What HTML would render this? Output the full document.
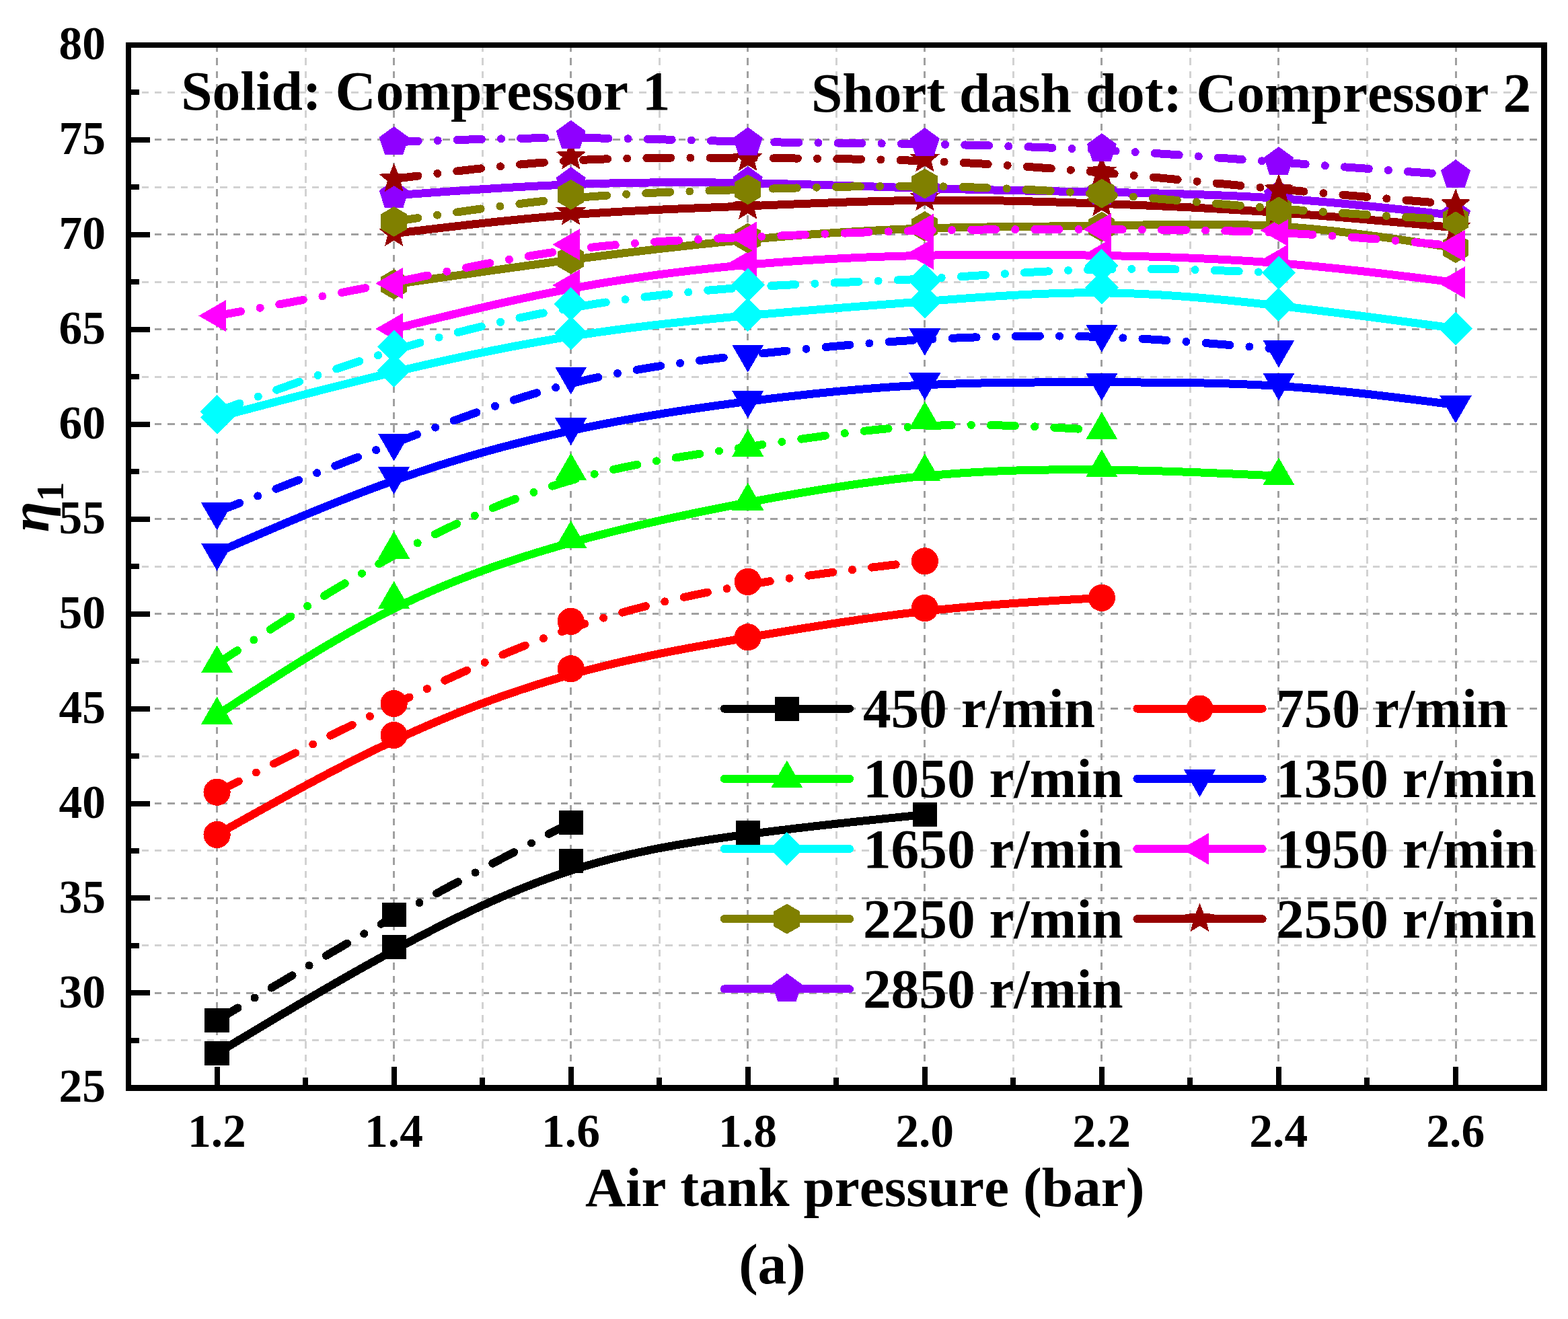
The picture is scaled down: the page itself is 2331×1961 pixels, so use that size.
<!DOCTYPE html>
<html><head><meta charset="utf-8"><title>Air tank pressure vs efficiency</title>
<style>
html,body{margin:0;padding:0;background:#fff;}
svg{display:block;}
path,polygon,rect,circle{shape-rendering:crispEdges;}
text{font-family:"Liberation Serif","Times New Roman",serif;font-weight:bold;font-kerning:none;}
</style></head><body>
<svg width="2331" height="1961" viewBox="0 0 2331 1961">
<rect width="2331" height="1961" fill="#fff"/>
<g fill="none" stroke-width="3" stroke-dasharray="10.5 8.97" shape-rendering="crispEdges"><path d="M191.05,1546.88H2295.6" stroke="#D2D2D2"/><path d="M191.05,1405.93H2295.6" stroke="#D2D2D2"/><path d="M191.05,1264.99H2295.6" stroke="#D2D2D2"/><path d="M191.05,1124.04H2295.6" stroke="#D2D2D2"/><path d="M191.05,983.1H2295.6" stroke="#D2D2D2"/><path d="M191.05,842.15H2295.6" stroke="#D2D2D2"/><path d="M191.05,701.21H2295.6" stroke="#D2D2D2"/><path d="M191.05,560.26H2295.6" stroke="#D2D2D2"/><path d="M191.05,419.32H2295.6" stroke="#D2D2D2"/><path d="M191.05,278.37H2295.6" stroke="#D2D2D2"/><path d="M191.05,137.43H2295.6" stroke="#D2D2D2"/><path d="M191.05,1476.4H2295.6" stroke="#A0A0A0"/><path d="M191.05,1335.46H2295.6" stroke="#A0A0A0"/><path d="M191.05,1194.51H2295.6" stroke="#A0A0A0"/><path d="M191.05,1053.57H2295.6" stroke="#A0A0A0"/><path d="M191.05,912.62H2295.6" stroke="#A0A0A0"/><path d="M191.05,771.68H2295.6" stroke="#A0A0A0"/><path d="M191.05,630.73H2295.6" stroke="#A0A0A0"/><path d="M191.05,489.79H2295.6" stroke="#A0A0A0"/><path d="M191.05,348.84H2295.6" stroke="#A0A0A0"/><path d="M191.05,207.9H2295.6" stroke="#A0A0A0"/><path d="M322.58,1617.35V66.95" stroke="#A0A0A0" stroke-dasharray="10.5 8.994"/><path d="M454.11,1617.35V66.95" stroke="#D2D2D2" stroke-dasharray="10.5 8.994"/><path d="M585.64,1617.35V66.95" stroke="#A0A0A0" stroke-dasharray="10.5 8.994"/><path d="M717.17,1617.35V66.95" stroke="#D2D2D2" stroke-dasharray="10.5 8.994"/><path d="M848.7,1617.35V66.95" stroke="#A0A0A0" stroke-dasharray="10.5 8.994"/><path d="M980.23,1617.35V66.95" stroke="#D2D2D2" stroke-dasharray="10.5 8.994"/><path d="M1111.76,1617.35V66.95" stroke="#A0A0A0" stroke-dasharray="10.5 8.994"/><path d="M1243.29,1617.35V66.95" stroke="#D2D2D2" stroke-dasharray="10.5 8.994"/><path d="M1374.82,1617.35V66.95" stroke="#A0A0A0" stroke-dasharray="10.5 8.994"/><path d="M1506.35,1617.35V66.95" stroke="#D2D2D2" stroke-dasharray="10.5 8.994"/><path d="M1637.88,1617.35V66.95" stroke="#A0A0A0" stroke-dasharray="10.5 8.994"/><path d="M1769.41,1617.35V66.95" stroke="#D2D2D2" stroke-dasharray="10.5 8.994"/><path d="M1900.94,1617.35V66.95" stroke="#A0A0A0" stroke-dasharray="10.5 8.994"/><path d="M2032.47,1617.35V66.95" stroke="#D2D2D2" stroke-dasharray="10.5 8.994"/><path d="M2164,1617.35V66.95" stroke="#A0A0A0" stroke-dasharray="10.5 8.994"/></g>
<text x="269.2" y="163.4" font-size="83.4">Solid: Compressor 1</text>
<text x="1205.9" y="166.2" font-size="83.4">Short dash dot: Compressor 2</text>
<path d="M322.58,1565.9 L326.1,1563.78 L329.62,1561.67 L333.14,1559.56 L336.66,1557.44 L340.18,1555.33 L343.7,1553.21 L347.21,1551.1 L350.73,1548.99 L354.25,1546.87 L357.77,1544.76 L361.29,1542.65 L364.81,1540.54 L368.33,1538.43 L371.85,1536.32 L375.37,1534.22 L378.89,1532.11 L382.41,1530 L385.93,1527.9 L389.44,1525.8 L392.96,1523.7 L396.48,1521.6 L400,1519.5 L403.52,1517.4 L407.04,1515.31 L410.56,1513.21 L414.08,1511.12 L417.6,1509.03 L421.12,1506.94 L424.64,1504.86 L428.16,1502.77 L431.68,1500.69 L435.19,1498.61 L438.71,1496.54 L442.23,1494.46 L445.75,1492.39 L449.27,1490.32 L452.79,1488.26 L456.31,1486.19 L459.83,1484.13 L463.35,1482.07 L466.87,1480.02 L470.39,1477.96 L473.91,1475.91 L477.42,1473.87 L480.94,1471.82 L484.46,1469.78 L487.98,1467.75 L491.5,1465.71 L495.02,1463.69 L498.54,1461.66 L502.06,1459.64 L505.58,1457.62 L509.1,1455.6 L512.62,1453.59 L516.14,1451.58 L519.66,1449.58 L523.17,1447.58 L526.69,1445.59 L530.21,1443.6 L533.73,1441.61 L537.25,1439.63 L540.77,1437.65 L544.29,1435.68 L547.81,1433.71 L551.33,1431.74 L554.85,1429.78 L558.37,1427.83 L561.89,1425.88 L565.4,1423.93 L568.92,1421.99 L572.44,1420.06 L575.96,1418.13 L579.48,1416.2 L583,1414.29 L586.52,1412.37 L590.04,1410.46 L593.56,1408.56 L597.08,1406.66 L600.6,1404.77 L604.12,1402.89 L607.63,1401.01 L611.15,1399.14 L614.67,1397.27 L618.19,1395.41 L621.71,1393.56 L625.23,1391.71 L628.75,1389.87 L632.27,1388.04 L635.79,1386.21 L639.31,1384.4 L642.83,1382.58 L646.35,1380.78 L649.87,1378.99 L653.38,1377.2 L656.9,1375.42 L660.42,1373.65 L663.94,1371.89 L667.46,1370.13 L670.98,1368.38 L674.5,1366.65 L678.02,1364.92 L681.54,1363.2 L685.06,1361.49 L688.58,1359.79 L692.1,1358.09 L695.61,1356.41 L699.13,1354.74 L702.65,1353.07 L706.17,1351.42 L709.69,1349.78 L713.21,1348.14 L716.73,1346.52 L720.25,1344.91 L723.77,1343.3 L727.29,1341.71 L730.81,1340.13 L734.33,1338.56 L737.85,1337 L741.36,1335.45 L744.88,1333.92 L748.4,1332.39 L751.92,1330.88 L755.44,1329.37 L758.96,1327.88 L762.48,1326.4 L766,1324.94 L769.52,1323.48 L773.04,1322.04 L776.56,1320.61 L780.08,1319.2 L783.59,1317.79 L787.11,1316.4 L790.63,1315.02 L794.15,1313.66 L797.67,1312.31 L801.19,1310.97 L804.71,1309.64 L808.23,1308.33 L811.75,1307.04 L815.27,1305.75 L818.79,1304.48 L822.31,1303.23 L825.83,1301.99 L829.34,1300.76 L832.86,1299.55 L836.38,1298.35 L839.9,1297.17 L843.42,1296.01 L846.94,1294.85 L850.46,1293.72 L853.98,1292.6 L857.5,1291.49 L861.02,1290.4 L864.54,1289.32 L868.06,1288.26 L871.57,1287.21 L875.09,1286.18 L878.61,1285.16 L882.13,1284.16 L885.65,1283.16 L889.17,1282.19 L892.69,1281.22 L896.21,1280.27 L899.73,1279.33 L903.25,1278.41 L906.77,1277.49 L910.29,1276.59 L913.81,1275.71 L917.32,1274.83 L920.84,1273.97 L924.36,1273.11 L927.88,1272.27 L931.4,1271.45 L934.92,1270.63 L938.44,1269.82 L941.96,1269.03 L945.48,1268.25 L949,1267.47 L952.52,1266.71 L956.04,1265.96 L959.55,1265.22 L963.07,1264.48 L966.59,1263.76 L970.11,1263.05 L973.63,1262.35 L977.15,1261.65 L980.67,1260.97 L984.19,1260.29 L987.71,1259.62 L991.23,1258.97 L994.75,1258.32 L998.27,1257.68 L1001.79,1257.04 L1005.3,1256.42 L1008.82,1255.8 L1012.34,1255.19 L1015.86,1254.59 L1019.38,1253.99 L1022.9,1253.41 L1026.42,1252.83 L1029.94,1252.25 L1033.46,1251.69 L1036.98,1251.13 L1040.5,1250.57 L1044.02,1250.02 L1047.53,1249.48 L1051.05,1248.94 L1054.57,1248.41 L1058.09,1247.89 L1061.61,1247.37 L1065.13,1246.85 L1068.65,1246.34 L1072.17,1245.84 L1075.69,1245.34 L1079.21,1244.84 L1082.73,1244.35 L1086.25,1243.86 L1089.77,1243.38 L1093.28,1242.9 L1096.8,1242.42 L1100.32,1241.95 L1103.84,1241.48 L1107.36,1241.01 L1110.88,1240.55 L1114.4,1240.09 L1117.92,1239.63 L1121.44,1239.17 L1124.96,1238.72 L1128.48,1238.27 L1132,1237.82 L1135.51,1237.38 L1139.03,1236.94 L1142.55,1236.49 L1146.07,1236.06 L1149.59,1235.62 L1153.11,1235.19 L1156.63,1234.76 L1160.15,1234.33 L1163.67,1233.9 L1167.19,1233.48 L1170.71,1233.06 L1174.23,1232.64 L1177.74,1232.22 L1181.26,1231.8 L1184.78,1231.39 L1188.3,1230.98 L1191.82,1230.57 L1195.34,1230.16 L1198.86,1229.75 L1202.38,1229.35 L1205.9,1228.94 L1209.42,1228.54 L1212.94,1228.14 L1216.46,1227.75 L1219.98,1227.35 L1223.49,1226.96 L1227.01,1226.56 L1230.53,1226.17 L1234.05,1225.78 L1237.57,1225.39 L1241.09,1225.01 L1244.61,1224.62 L1248.13,1224.24 L1251.65,1223.86 L1255.17,1223.47 L1258.69,1223.09 L1262.21,1222.71 L1265.72,1222.34 L1269.24,1221.96 L1272.76,1221.58 L1276.28,1221.21 L1279.8,1220.84 L1283.32,1220.46 L1286.84,1220.09 L1290.36,1219.72 L1293.88,1219.35 L1297.4,1218.98 L1300.92,1218.61 L1304.44,1218.25 L1307.96,1217.88 L1311.47,1217.51 L1314.99,1217.15 L1318.51,1216.78 L1322.03,1216.42 L1325.55,1216.05 L1329.07,1215.69 L1332.59,1215.33 L1336.11,1214.97 L1339.63,1214.6 L1343.15,1214.24 L1346.67,1213.88 L1350.19,1213.52 L1353.7,1213.16 L1357.22,1212.8 L1360.74,1212.44 L1364.26,1212.08 L1367.78,1211.72 L1371.3,1211.36 L1374.82,1211" stroke="#000000" stroke-width="12" fill="none" stroke-linecap="round" stroke-linejoin="round"/>
<rect x="304.48" y="1547.8" width="36.2" height="36.2" fill="#000000"/>
<rect x="567.54" y="1389.7" width="36.2" height="36.2" fill="#000000"/>
<rect x="830.6" y="1261.9" width="36.2" height="36.2" fill="#000000"/>
<rect x="1093.66" y="1219.8" width="36.2" height="36.2" fill="#000000"/>
<rect x="1356.72" y="1192.9" width="36.2" height="36.2" fill="#000000"/>
<path d="M322.58,1240.9 L326.98,1238.43 L331.38,1235.95 L335.78,1233.48 L340.18,1231.01 L344.57,1228.54 L348.97,1226.07 L353.37,1223.6 L357.77,1221.13 L362.17,1218.67 L366.57,1216.21 L370.97,1213.75 L375.37,1211.29 L379.77,1208.83 L384.17,1206.38 L388.56,1203.93 L392.96,1201.49 L397.36,1199.04 L401.76,1196.61 L406.16,1194.17 L410.56,1191.74 L414.96,1189.32 L419.36,1186.9 L423.76,1184.48 L428.16,1182.07 L432.55,1179.67 L436.95,1177.27 L441.35,1174.88 L445.75,1172.49 L450.15,1170.11 L454.55,1167.74 L458.95,1165.37 L463.35,1163.01 L467.75,1160.66 L472.15,1158.32 L476.54,1155.98 L480.94,1153.65 L485.34,1151.33 L489.74,1149.02 L494.14,1146.72 L498.54,1144.42 L502.94,1142.14 L507.34,1139.86 L511.74,1137.6 L516.14,1135.34 L520.53,1133.1 L524.93,1130.86 L529.33,1128.64 L533.73,1126.42 L538.13,1124.22 L542.53,1122.03 L546.93,1119.85 L551.33,1117.68 L555.73,1115.53 L560.13,1113.38 L564.52,1111.25 L568.92,1109.13 L573.32,1107.03 L577.72,1104.93 L582.12,1102.85 L586.52,1100.79 L590.92,1098.74 L595.32,1096.7 L599.72,1094.67 L604.12,1092.66 L608.51,1090.66 L612.91,1088.68 L617.31,1086.71 L621.71,1084.76 L626.11,1082.81 L630.51,1080.89 L634.91,1078.97 L639.31,1077.07 L643.71,1075.19 L648.11,1073.31 L652.5,1071.46 L656.9,1069.61 L661.3,1067.78 L665.7,1065.96 L670.1,1064.16 L674.5,1062.37 L678.9,1060.6 L683.3,1058.84 L687.7,1057.09 L692.1,1055.36 L696.49,1053.64 L700.89,1051.94 L705.29,1050.25 L709.69,1048.57 L714.09,1046.91 L718.49,1045.26 L722.89,1043.63 L727.29,1042.01 L731.69,1040.4 L736.09,1038.81 L740.48,1037.23 L744.88,1035.67 L749.28,1034.12 L753.68,1032.58 L758.08,1031.06 L762.48,1029.56 L766.88,1028.06 L771.28,1026.59 L775.68,1025.12 L780.08,1023.67 L784.47,1022.24 L788.87,1020.82 L793.27,1019.41 L797.67,1018.02 L802.07,1016.64 L806.47,1015.28 L810.87,1013.93 L815.27,1012.59 L819.67,1011.27 L824.07,1009.97 L828.46,1008.67 L832.86,1007.4 L837.26,1006.13 L841.66,1004.88 L846.06,1003.65 L850.46,1002.43 L854.86,1001.23 L859.26,1000.03 L863.66,998.86 L868.06,997.69 L872.45,996.54 L876.85,995.41 L881.25,994.28 L885.65,993.17 L890.05,992.07 L894.45,990.99 L898.85,989.91 L903.25,988.85 L907.65,987.8 L912.05,986.76 L916.44,985.73 L920.84,984.72 L925.24,983.71 L929.64,982.72 L934.04,981.73 L938.44,980.76 L942.84,979.79 L947.24,978.84 L951.64,977.89 L956.04,976.95 L960.43,976.03 L964.83,975.11 L969.23,974.2 L973.63,973.29 L978.03,972.4 L982.43,971.51 L986.83,970.64 L991.23,969.76 L995.63,968.9 L1000.03,968.04 L1004.42,967.19 L1008.82,966.35 L1013.22,965.51 L1017.62,964.68 L1022.02,963.86 L1026.42,963.04 L1030.82,962.22 L1035.22,961.41 L1039.62,960.61 L1044.02,959.81 L1048.41,959.02 L1052.81,958.22 L1057.21,957.44 L1061.61,956.66 L1066.01,955.88 L1070.41,955.1 L1074.81,954.33 L1079.21,953.56 L1083.61,952.79 L1088.01,952.03 L1092.4,951.27 L1096.8,950.51 L1101.2,949.75 L1105.6,948.99 L1110,948.24 L1114.4,947.48 L1118.8,946.73 L1123.2,945.98 L1127.6,945.23 L1132,944.48 L1136.39,943.73 L1140.79,942.98 L1145.19,942.24 L1149.59,941.5 L1153.99,940.76 L1158.39,940.02 L1162.79,939.29 L1167.19,938.55 L1171.59,937.82 L1175.99,937.09 L1180.38,936.37 L1184.78,935.65 L1189.18,934.93 L1193.58,934.21 L1197.98,933.5 L1202.38,932.79 L1206.78,932.08 L1211.18,931.38 L1215.58,930.68 L1219.98,929.98 L1224.37,929.29 L1228.77,928.6 L1233.17,927.92 L1237.57,927.24 L1241.97,926.56 L1246.37,925.89 L1250.77,925.22 L1255.17,924.56 L1259.57,923.91 L1263.97,923.25 L1268.36,922.61 L1272.76,921.96 L1277.16,921.33 L1281.56,920.69 L1285.96,920.07 L1290.36,919.45 L1294.76,918.83 L1299.16,918.22 L1303.56,917.62 L1307.96,917.02 L1312.35,916.43 L1316.75,915.84 L1321.15,915.26 L1325.55,914.69 L1329.95,914.13 L1334.35,913.57 L1338.75,913.01 L1343.15,912.47 L1347.55,911.93 L1351.95,911.4 L1356.34,910.87 L1360.74,910.35 L1365.14,909.84 L1369.54,909.34 L1373.94,908.85 L1378.34,908.36 L1382.74,907.88 L1387.14,907.41 L1391.54,906.95 L1395.94,906.49 L1400.33,906.04 L1404.73,905.6 L1409.13,905.16 L1413.53,904.73 L1417.93,904.31 L1422.33,903.9 L1426.73,903.49 L1431.13,903.08 L1435.53,902.69 L1439.93,902.29 L1444.32,901.91 L1448.72,901.53 L1453.12,901.16 L1457.52,900.79 L1461.92,900.43 L1466.32,900.07 L1470.72,899.72 L1475.12,899.37 L1479.52,899.03 L1483.92,898.69 L1488.31,898.35 L1492.71,898.02 L1497.11,897.7 L1501.51,897.38 L1505.91,897.06 L1510.31,896.75 L1514.71,896.44 L1519.11,896.14 L1523.51,895.83 L1527.91,895.54 L1532.3,895.24 L1536.7,894.95 L1541.1,894.66 L1545.5,894.37 L1549.9,894.09 L1554.3,893.81 L1558.7,893.53 L1563.1,893.26 L1567.5,892.98 L1571.9,892.71 L1576.29,892.44 L1580.69,892.17 L1585.09,891.91 L1589.49,891.64 L1593.89,891.38 L1598.29,891.12 L1602.69,890.86 L1607.09,890.6 L1611.49,890.34 L1615.89,890.08 L1620.28,889.82 L1624.68,889.57 L1629.08,889.31 L1633.48,889.06 L1637.88,888.8" stroke="#FF0000" stroke-width="12" fill="none" stroke-linecap="round" stroke-linejoin="round"/>
<circle cx="322.58" cy="1240.9" r="20.1" fill="#FF0000"/>
<circle cx="585.64" cy="1093" r="20.1" fill="#FF0000"/>
<circle cx="848.7" cy="994.3" r="20.1" fill="#FF0000"/>
<circle cx="1111.76" cy="947.3" r="20.1" fill="#FF0000"/>
<circle cx="1374.82" cy="904.1" r="20.1" fill="#FF0000"/>
<circle cx="1637.88" cy="888.8" r="20.1" fill="#FF0000"/>
<path d="M322.58,1063.1 L327.86,1059.65 L333.14,1056.2 L338.42,1052.75 L343.7,1049.31 L348.97,1045.87 L354.25,1042.43 L359.53,1038.99 L364.81,1035.56 L370.09,1032.13 L375.37,1028.72 L380.65,1025.3 L385.93,1021.9 L391.2,1018.5 L396.48,1015.11 L401.76,1011.73 L407.04,1008.36 L412.32,1005 L417.6,1001.65 L422.88,998.32 L428.16,994.99 L433.43,991.68 L438.71,988.39 L443.99,985.1 L449.27,981.84 L454.55,978.59 L459.83,975.35 L465.11,972.13 L470.39,968.94 L475.67,965.75 L480.94,962.59 L486.22,959.45 L491.5,956.33 L496.78,953.23 L502.06,950.15 L507.34,947.1 L512.62,944.06 L517.9,941.06 L523.17,938.07 L528.45,935.11 L533.73,932.18 L539.01,929.27 L544.29,926.39 L549.57,923.54 L554.85,920.72 L560.13,917.92 L565.4,915.16 L570.68,912.43 L575.96,909.72 L581.24,907.05 L586.52,904.41 L591.8,901.81 L597.08,899.23 L602.36,896.69 L607.63,894.18 L612.91,891.7 L618.19,889.26 L623.47,886.84 L628.75,884.45 L634.03,882.1 L639.31,879.77 L644.59,877.47 L649.87,875.2 L655.14,872.96 L660.42,870.75 L665.7,868.56 L670.98,866.4 L676.26,864.27 L681.54,862.17 L686.82,860.09 L692.1,858.03 L697.37,856 L702.65,854 L707.93,852.02 L713.21,850.06 L718.49,848.13 L723.77,846.22 L729.05,844.33 L734.33,842.47 L739.6,840.63 L744.88,838.81 L750.16,837.01 L755.44,835.23 L760.72,833.47 L766,831.73 L771.28,830.02 L776.56,828.32 L781.84,826.64 L787.11,824.98 L792.39,823.33 L797.67,821.71 L802.95,820.1 L808.23,818.51 L813.51,816.93 L818.79,815.38 L824.07,813.83 L829.34,812.31 L834.62,810.79 L839.9,809.3 L845.18,807.81 L850.46,806.35 L855.74,804.89 L861.02,803.45 L866.3,802.02 L871.57,800.6 L876.85,799.2 L882.13,797.81 L887.41,796.43 L892.69,795.07 L897.97,793.71 L903.25,792.37 L908.53,791.04 L913.81,789.72 L919.08,788.42 L924.36,787.12 L929.64,785.84 L934.92,784.57 L940.2,783.3 L945.48,782.05 L950.76,780.81 L956.04,779.58 L961.31,778.36 L966.59,777.15 L971.87,775.95 L977.15,774.76 L982.43,773.58 L987.71,772.41 L992.99,771.24 L998.27,770.09 L1003.54,768.94 L1008.82,767.81 L1014.1,766.68 L1019.38,765.56 L1024.66,764.45 L1029.94,763.34 L1035.22,762.25 L1040.5,761.16 L1045.78,760.08 L1051.05,759 L1056.33,757.93 L1061.61,756.87 L1066.89,755.82 L1072.17,754.77 L1077.45,753.73 L1082.73,752.7 L1088.01,751.67 L1093.28,750.65 L1098.56,749.63 L1103.84,748.62 L1109.12,747.62 L1114.4,746.62 L1119.68,745.62 L1124.96,744.63 L1130.24,743.65 L1135.51,742.67 L1140.79,741.7 L1146.07,740.73 L1151.35,739.77 L1156.63,738.82 L1161.91,737.87 L1167.19,736.93 L1172.47,736 L1177.74,735.08 L1183.02,734.16 L1188.3,733.25 L1193.58,732.35 L1198.86,731.46 L1204.14,730.57 L1209.42,729.7 L1214.7,728.83 L1219.98,727.97 L1225.25,727.12 L1230.53,726.28 L1235.81,725.45 L1241.09,724.63 L1246.37,723.82 L1251.65,723.03 L1256.93,722.24 L1262.21,721.46 L1267.48,720.69 L1272.76,719.93 L1278.04,719.19 L1283.32,718.45 L1288.6,717.73 L1293.88,717.02 L1299.16,716.32 L1304.44,715.64 L1309.71,714.96 L1314.99,714.3 L1320.27,713.65 L1325.55,713.02 L1330.83,712.39 L1336.11,711.79 L1341.39,711.19 L1346.67,710.61 L1351.95,710.04 L1357.22,709.49 L1362.5,708.95 L1367.78,708.43 L1373.06,707.92 L1378.34,707.42 L1383.62,706.94 L1388.9,706.48 L1394.18,706.03 L1399.45,705.59 L1404.73,705.17 L1410.01,704.77 L1415.29,704.37 L1420.57,704 L1425.85,703.63 L1431.13,703.28 L1436.41,702.94 L1441.68,702.62 L1446.96,702.31 L1452.24,702.01 L1457.52,701.72 L1462.8,701.45 L1468.08,701.19 L1473.36,700.94 L1478.64,700.7 L1483.92,700.48 L1489.19,700.27 L1494.47,700.07 L1499.75,699.88 L1505.03,699.7 L1510.31,699.53 L1515.59,699.38 L1520.87,699.24 L1526.15,699.1 L1531.42,698.98 L1536.7,698.87 L1541.98,698.76 L1547.26,698.67 L1552.54,698.59 L1557.82,698.52 L1563.1,698.46 L1568.38,698.4 L1573.65,698.36 L1578.93,698.32 L1584.21,698.3 L1589.49,698.28 L1594.77,698.27 L1600.05,698.27 L1605.33,698.28 L1610.61,698.3 L1615.89,698.33 L1621.16,698.36 L1626.44,698.4 L1631.72,698.45 L1637,698.51 L1642.28,698.57 L1647.56,698.64 L1652.84,698.72 L1658.12,698.8 L1663.39,698.89 L1668.67,698.99 L1673.95,699.1 L1679.23,699.21 L1684.51,699.32 L1689.79,699.45 L1695.07,699.58 L1700.35,699.71 L1705.62,699.85 L1710.9,700 L1716.18,700.15 L1721.46,700.3 L1726.74,700.46 L1732.02,700.63 L1737.3,700.8 L1742.58,700.97 L1747.85,701.15 L1753.13,701.34 L1758.41,701.52 L1763.69,701.72 L1768.97,701.91 L1774.25,702.11 L1779.53,702.31 L1784.81,702.52 L1790.09,702.73 L1795.36,702.94 L1800.64,703.15 L1805.92,703.37 L1811.2,703.59 L1816.48,703.81 L1821.76,704.04 L1827.04,704.27 L1832.32,704.5 L1837.59,704.73 L1842.87,704.96 L1848.15,705.2 L1853.43,705.43 L1858.71,705.67 L1863.99,705.91 L1869.27,706.15 L1874.55,706.39 L1879.82,706.63 L1885.1,706.87 L1890.38,707.11 L1895.66,707.36 L1900.94,707.6" stroke="#00FF00" stroke-width="12" fill="none" stroke-linecap="round" stroke-linejoin="round"/>
<polygon points="322.58,1035.8 346.22,1076.75 298.94,1076.75" fill="#00FF00"/>
<polygon points="585.64,863.9 609.28,904.85 562,904.85" fill="#00FF00"/>
<polygon points="848.7,773.9 872.34,814.85 825.06,814.85" fill="#00FF00"/>
<polygon points="1111.76,717.7 1135.4,758.65 1088.12,758.65" fill="#00FF00"/>
<polygon points="1374.82,674.2 1398.46,715.15 1351.18,715.15" fill="#00FF00"/>
<polygon points="1637.88,668.2 1661.52,709.15 1614.24,709.15" fill="#00FF00"/>
<polygon points="1900.94,680.3 1924.58,721.25 1877.3,721.25" fill="#00FF00"/>
<path d="M322.58,821.4 L328.74,818.74 L334.9,816.08 L341.06,813.42 L347.21,810.76 L353.37,808.1 L359.53,805.45 L365.69,802.8 L371.85,800.15 L378.01,797.51 L384.17,794.87 L390.32,792.24 L396.48,789.61 L402.64,786.99 L408.8,784.37 L414.96,781.77 L421.12,779.17 L427.28,776.58 L433.43,774 L439.59,771.42 L445.75,768.86 L451.91,766.31 L458.07,763.77 L464.23,761.24 L470.39,758.72 L476.54,756.22 L482.7,753.73 L488.86,751.25 L495.02,748.79 L501.18,746.34 L507.34,743.91 L513.5,741.49 L519.66,739.09 L525.81,736.7 L531.97,734.33 L538.13,731.98 L544.29,729.65 L550.45,727.34 L556.61,725.05 L562.77,722.78 L568.92,720.52 L575.08,718.29 L581.24,716.08 L587.4,713.89 L593.56,711.73 L599.72,709.59 L605.88,707.46 L612.03,705.36 L618.19,703.29 L624.35,701.23 L630.51,699.2 L636.67,697.19 L642.83,695.2 L648.99,693.23 L655.14,691.28 L661.3,689.35 L667.46,687.45 L673.62,685.56 L679.78,683.7 L685.94,681.86 L692.1,680.04 L698.25,678.23 L704.41,676.45 L710.57,674.69 L716.73,672.95 L722.89,671.23 L729.05,669.53 L735.21,667.85 L741.36,666.19 L747.52,664.55 L753.68,662.93 L759.84,661.33 L766,659.74 L772.16,658.18 L778.32,656.64 L784.47,655.11 L790.63,653.61 L796.79,652.12 L802.95,650.65 L809.11,649.2 L815.27,647.77 L821.43,646.36 L827.58,644.96 L833.74,643.58 L839.9,642.23 L846.06,640.89 L852.22,639.56 L858.38,638.26 L864.54,636.97 L870.69,635.7 L876.85,634.45 L883.01,633.21 L889.17,631.99 L895.33,630.79 L901.49,629.6 L907.65,628.43 L913.81,627.27 L919.96,626.13 L926.12,625 L932.28,623.89 L938.44,622.79 L944.6,621.71 L950.76,620.64 L956.92,619.58 L963.07,618.54 L969.23,617.51 L975.39,616.5 L981.55,615.49 L987.71,614.5 L993.87,613.53 L1000.03,612.56 L1006.18,611.61 L1012.34,610.66 L1018.5,609.73 L1024.66,608.81 L1030.82,607.9 L1036.98,607.01 L1043.14,606.12 L1049.29,605.24 L1055.45,604.37 L1061.61,603.51 L1067.77,602.66 L1073.93,601.82 L1080.09,600.99 L1086.25,600.17 L1092.4,599.36 L1098.56,598.55 L1104.72,597.75 L1110.88,596.96 L1117.04,596.18 L1123.2,595.4 L1129.36,594.64 L1135.51,593.88 L1141.67,593.13 L1147.83,592.38 L1153.99,591.65 L1160.15,590.92 L1166.31,590.2 L1172.47,589.5 L1178.62,588.8 L1184.78,588.11 L1190.94,587.43 L1197.1,586.76 L1203.26,586.1 L1209.42,585.45 L1215.58,584.81 L1221.73,584.18 L1227.89,583.56 L1234.05,582.95 L1240.21,582.35 L1246.37,581.76 L1252.53,581.19 L1258.69,580.63 L1264.85,580.07 L1271,579.54 L1277.16,579.01 L1283.32,578.49 L1289.48,577.99 L1295.64,577.5 L1301.8,577.02 L1307.96,576.56 L1314.11,576.11 L1320.27,575.67 L1326.43,575.24 L1332.59,574.83 L1338.75,574.44 L1344.91,574.05 L1351.07,573.68 L1357.22,573.33 L1363.38,572.99 L1369.54,572.67 L1375.7,572.36 L1381.86,572.06 L1388.02,571.78 L1394.18,571.52 L1400.33,571.26 L1406.49,571.03 L1412.65,570.8 L1418.81,570.59 L1424.97,570.39 L1431.13,570.2 L1437.29,570.03 L1443.44,569.86 L1449.6,569.71 L1455.76,569.57 L1461.92,569.43 L1468.08,569.31 L1474.24,569.2 L1480.4,569.1 L1486.55,569 L1492.71,568.92 L1498.87,568.84 L1505.03,568.77 L1511.19,568.7 L1517.35,568.65 L1523.51,568.6 L1529.66,568.55 L1535.82,568.52 L1541.98,568.48 L1548.14,568.46 L1554.3,568.44 L1560.46,568.42 L1566.62,568.4 L1572.77,568.39 L1578.93,568.39 L1585.09,568.38 L1591.25,568.38 L1597.41,568.38 L1603.57,568.39 L1609.73,568.39 L1615.89,568.39 L1622.04,568.4 L1628.2,568.41 L1634.36,568.41 L1640.52,568.42 L1646.68,568.42 L1652.84,568.43 L1659,568.44 L1665.15,568.44 L1671.31,568.45 L1677.47,568.46 L1683.63,568.47 L1689.79,568.49 L1695.95,568.51 L1702.11,568.53 L1708.26,568.56 L1714.42,568.59 L1720.58,568.62 L1726.74,568.66 L1732.9,568.71 L1739.06,568.76 L1745.22,568.82 L1751.37,568.89 L1757.53,568.97 L1763.69,569.05 L1769.85,569.14 L1776.01,569.24 L1782.17,569.35 L1788.33,569.47 L1794.48,569.6 L1800.64,569.75 L1806.8,569.9 L1812.96,570.06 L1819.12,570.24 L1825.28,570.43 L1831.44,570.63 L1837.59,570.85 L1843.75,571.08 L1849.91,571.32 L1856.07,571.58 L1862.23,571.86 L1868.39,572.15 L1874.55,572.46 L1880.7,572.78 L1886.86,573.12 L1893.02,573.48 L1899.18,573.86 L1905.34,574.25 L1911.5,574.66 L1917.66,575.1 L1923.81,575.54 L1929.97,576.01 L1936.13,576.49 L1942.29,576.99 L1948.45,577.5 L1954.61,578.03 L1960.77,578.58 L1966.92,579.14 L1973.08,579.71 L1979.24,580.29 L1985.4,580.89 L1991.56,581.51 L1997.72,582.13 L2003.88,582.76 L2010.04,583.41 L2016.19,584.07 L2022.35,584.74 L2028.51,585.42 L2034.67,586.11 L2040.83,586.8 L2046.99,587.51 L2053.15,588.22 L2059.3,588.94 L2065.46,589.67 L2071.62,590.41 L2077.78,591.15 L2083.94,591.9 L2090.1,592.66 L2096.26,593.42 L2102.41,594.18 L2108.57,594.95 L2114.73,595.73 L2120.89,596.5 L2127.05,597.28 L2133.21,598.06 L2139.37,598.85 L2145.52,599.64 L2151.68,600.42 L2157.84,601.21 L2164,602" stroke="#0000FF" stroke-width="12" fill="none" stroke-linecap="round" stroke-linejoin="round"/>
<polygon points="322.58,848.7 298.94,807.75 346.22,807.75" fill="#0000FF"/>
<polygon points="585.64,735 562,694.05 609.28,694.05" fill="#0000FF"/>
<polygon points="848.7,662.2 825.06,621.25 872.34,621.25" fill="#0000FF"/>
<polygon points="1111.76,621.9 1088.12,580.95 1135.4,580.95" fill="#0000FF"/>
<polygon points="1374.82,595.1 1351.18,554.15 1398.46,554.15" fill="#0000FF"/>
<polygon points="1637.88,595.9 1614.24,554.95 1661.52,554.95" fill="#0000FF"/>
<polygon points="1900.94,595.6 1877.3,554.65 1924.58,554.65" fill="#0000FF"/>
<polygon points="2164,629.3 2140.36,588.35 2187.64,588.35" fill="#0000FF"/>
<path d="M322.58,620.5 L328.74,618.87 L334.9,617.25 L341.06,615.62 L347.21,613.99 L353.37,612.37 L359.53,610.74 L365.69,609.12 L371.85,607.5 L378.01,605.88 L384.17,604.26 L390.32,602.64 L396.48,601.03 L402.64,599.41 L408.8,597.8 L414.96,596.19 L421.12,594.59 L427.28,592.99 L433.43,591.39 L439.59,589.79 L445.75,588.2 L451.91,586.61 L458.07,585.02 L464.23,583.44 L470.39,581.86 L476.54,580.29 L482.7,578.72 L488.86,577.16 L495.02,575.6 L501.18,574.04 L507.34,572.5 L513.5,570.95 L519.66,569.41 L525.81,567.88 L531.97,566.36 L538.13,564.84 L544.29,563.32 L550.45,561.81 L556.61,560.31 L562.77,558.82 L568.92,557.33 L575.08,555.85 L581.24,554.38 L587.4,552.92 L593.56,551.46 L599.72,550.01 L605.88,548.57 L612.03,547.14 L618.19,545.71 L624.35,544.29 L630.51,542.89 L636.67,541.49 L642.83,540.1 L648.99,538.72 L655.14,537.35 L661.3,535.99 L667.46,534.64 L673.62,533.3 L679.78,531.97 L685.94,530.65 L692.1,529.34 L698.25,528.04 L704.41,526.75 L710.57,525.48 L716.73,524.21 L722.89,522.96 L729.05,521.71 L735.21,520.48 L741.36,519.27 L747.52,518.06 L753.68,516.86 L759.84,515.68 L766,514.51 L772.16,513.36 L778.32,512.21 L784.47,511.08 L790.63,509.97 L796.79,508.87 L802.95,507.78 L809.11,506.7 L815.27,505.64 L821.43,504.59 L827.58,503.56 L833.74,502.54 L839.9,501.54 L846.06,500.55 L852.22,499.58 L858.38,498.62 L864.54,497.68 L870.69,496.75 L876.85,495.84 L883.01,494.94 L889.17,494.05 L895.33,493.18 L901.49,492.32 L907.65,491.47 L913.81,490.64 L919.96,489.82 L926.12,489.01 L932.28,488.21 L938.44,487.43 L944.6,486.66 L950.76,485.9 L956.92,485.15 L963.07,484.41 L969.23,483.68 L975.39,482.96 L981.55,482.25 L987.71,481.55 L993.87,480.86 L1000.03,480.18 L1006.18,479.51 L1012.34,478.85 L1018.5,478.19 L1024.66,477.55 L1030.82,476.91 L1036.98,476.28 L1043.14,475.66 L1049.29,475.05 L1055.45,474.44 L1061.61,473.84 L1067.77,473.24 L1073.93,472.66 L1080.09,472.07 L1086.25,471.5 L1092.4,470.93 L1098.56,470.36 L1104.72,469.8 L1110.88,469.25 L1117.04,468.69 L1123.2,468.15 L1129.36,467.61 L1135.51,467.07 L1141.67,466.53 L1147.83,466 L1153.99,465.48 L1160.15,464.95 L1166.31,464.44 L1172.47,463.92 L1178.62,463.41 L1184.78,462.9 L1190.94,462.39 L1197.1,461.89 L1203.26,461.39 L1209.42,460.89 L1215.58,460.4 L1221.73,459.9 L1227.89,459.41 L1234.05,458.93 L1240.21,458.44 L1246.37,457.96 L1252.53,457.47 L1258.69,456.99 L1264.85,456.52 L1271,456.04 L1277.16,455.56 L1283.32,455.09 L1289.48,454.62 L1295.64,454.14 L1301.8,453.67 L1307.96,453.2 L1314.11,452.73 L1320.27,452.26 L1326.43,451.8 L1332.59,451.33 L1338.75,450.86 L1344.91,450.39 L1351.07,449.92 L1357.22,449.46 L1363.38,448.99 L1369.54,448.52 L1375.7,448.05 L1381.86,447.58 L1388.02,447.11 L1394.18,446.64 L1400.33,446.17 L1406.49,445.71 L1412.65,445.25 L1418.81,444.79 L1424.97,444.33 L1431.13,443.88 L1437.29,443.43 L1443.44,442.99 L1449.6,442.55 L1455.76,442.12 L1461.92,441.7 L1468.08,441.29 L1474.24,440.88 L1480.4,440.49 L1486.55,440.1 L1492.71,439.73 L1498.87,439.36 L1505.03,439.01 L1511.19,438.67 L1517.35,438.34 L1523.51,438.02 L1529.66,437.72 L1535.82,437.44 L1541.98,437.16 L1548.14,436.91 L1554.3,436.67 L1560.46,436.45 L1566.62,436.24 L1572.77,436.06 L1578.93,435.89 L1585.09,435.74 L1591.25,435.61 L1597.41,435.5 L1603.57,435.42 L1609.73,435.35 L1615.89,435.31 L1622.04,435.29 L1628.2,435.29 L1634.36,435.32 L1640.52,435.38 L1646.68,435.45 L1652.84,435.56 L1659,435.68 L1665.15,435.83 L1671.31,436.01 L1677.47,436.2 L1683.63,436.42 L1689.79,436.66 L1695.95,436.92 L1702.11,437.2 L1708.26,437.51 L1714.42,437.83 L1720.58,438.17 L1726.74,438.53 L1732.9,438.91 L1739.06,439.31 L1745.22,439.72 L1751.37,440.15 L1757.53,440.6 L1763.69,441.07 L1769.85,441.55 L1776.01,442.04 L1782.17,442.55 L1788.33,443.08 L1794.48,443.62 L1800.64,444.17 L1806.8,444.73 L1812.96,445.31 L1819.12,445.9 L1825.28,446.5 L1831.44,447.11 L1837.59,447.74 L1843.75,448.37 L1849.91,449.01 L1856.07,449.66 L1862.23,450.32 L1868.39,450.99 L1874.55,451.67 L1880.7,452.36 L1886.86,453.05 L1893.02,453.74 L1899.18,454.45 L1905.34,455.16 L1911.5,455.87 L1917.66,456.59 L1923.81,457.32 L1929.97,458.05 L1936.13,458.78 L1942.29,459.52 L1948.45,460.26 L1954.61,461.01 L1960.77,461.77 L1966.92,462.52 L1973.08,463.28 L1979.24,464.05 L1985.4,464.82 L1991.56,465.59 L1997.72,466.37 L2003.88,467.15 L2010.04,467.93 L2016.19,468.71 L2022.35,469.5 L2028.51,470.3 L2034.67,471.09 L2040.83,471.89 L2046.99,472.69 L2053.15,473.49 L2059.3,474.29 L2065.46,475.1 L2071.62,475.91 L2077.78,476.72 L2083.94,477.53 L2090.1,478.35 L2096.26,479.16 L2102.41,479.98 L2108.57,480.8 L2114.73,481.62 L2120.89,482.44 L2127.05,483.26 L2133.21,484.08 L2139.37,484.91 L2145.52,485.73 L2151.68,486.55 L2157.84,487.38 L2164,488.2" stroke="#00FFFF" stroke-width="12" fill="none" stroke-linecap="round" stroke-linejoin="round"/>
<polygon points="322.58,595.5 347.58,620.5 322.58,645.5 297.58,620.5" fill="#00FFFF"/>
<polygon points="585.64,526 610.64,551 585.64,576 560.64,551" fill="#00FFFF"/>
<polygon points="848.7,470.5 873.7,495.5 848.7,520.5 823.7,495.5" fill="#00FFFF"/>
<polygon points="1111.76,442.8 1136.76,467.8 1111.76,492.8 1086.76,467.8" fill="#00FFFF"/>
<polygon points="1374.82,423.3 1399.82,448.3 1374.82,473.3 1349.82,448.3" fill="#00FFFF"/>
<polygon points="1637.88,402.7 1662.88,427.7 1637.88,452.7 1612.88,427.7" fill="#00FFFF"/>
<polygon points="1900.94,428 1925.94,453 1900.94,478 1875.94,453" fill="#00FFFF"/>
<polygon points="2164,463.2 2189,488.2 2164,513.2 2139,488.2" fill="#00FFFF"/>
<path d="M585.64,488.9 L590.92,487.6 L596.2,486.3 L601.48,484.99 L606.76,483.69 L612.03,482.39 L617.31,481.1 L622.59,479.8 L627.87,478.5 L633.15,477.21 L638.43,475.92 L643.71,474.63 L648.99,473.34 L654.26,472.06 L659.54,470.78 L664.82,469.51 L670.1,468.23 L675.38,466.97 L680.66,465.7 L685.94,464.44 L691.22,463.19 L696.49,461.94 L701.77,460.69 L707.05,459.46 L712.33,458.22 L717.61,457 L722.89,455.78 L728.17,454.56 L733.45,453.35 L738.73,452.15 L744,450.96 L749.28,449.78 L754.56,448.6 L759.84,447.43 L765.12,446.27 L770.4,445.11 L775.68,443.97 L780.96,442.83 L786.23,441.71 L791.51,440.59 L796.79,439.49 L802.07,438.39 L807.35,437.3 L812.63,436.23 L817.91,435.16 L823.19,434.11 L828.46,433.07 L833.74,432.04 L839.02,431.02 L844.3,430.01 L849.58,429.02 L854.86,428.04 L860.14,427.07 L865.42,426.11 L870.69,425.16 L875.97,424.23 L881.25,423.31 L886.53,422.4 L891.81,421.51 L897.09,420.62 L902.37,419.75 L907.65,418.89 L912.93,418.04 L918.2,417.2 L923.48,416.37 L928.76,415.56 L934.04,414.75 L939.32,413.96 L944.6,413.18 L949.88,412.41 L955.16,411.65 L960.43,410.9 L965.71,410.16 L970.99,409.43 L976.27,408.72 L981.55,408.01 L986.83,407.32 L992.11,406.63 L997.39,405.96 L1002.66,405.29 L1007.94,404.64 L1013.22,403.99 L1018.5,403.36 L1023.78,402.74 L1029.06,402.12 L1034.34,401.52 L1039.62,400.92 L1044.9,400.34 L1050.17,399.76 L1055.45,399.19 L1060.73,398.64 L1066.01,398.09 L1071.29,397.55 L1076.57,397.02 L1081.85,396.5 L1087.13,395.99 L1092.4,395.49 L1097.68,394.99 L1102.96,394.51 L1108.24,394.03 L1113.52,393.56 L1118.8,393.1 L1124.08,392.65 L1129.36,392.21 L1134.63,391.77 L1139.91,391.35 L1145.19,390.93 L1150.47,390.52 L1155.75,390.12 L1161.03,389.72 L1166.31,389.34 L1171.59,388.96 L1176.87,388.59 L1182.14,388.23 L1187.42,387.87 L1192.7,387.53 L1197.98,387.19 L1203.26,386.86 L1208.54,386.53 L1213.82,386.21 L1219.1,385.9 L1224.37,385.6 L1229.65,385.31 L1234.93,385.02 L1240.21,384.74 L1245.49,384.47 L1250.77,384.2 L1256.05,383.94 L1261.33,383.69 L1266.6,383.44 L1271.88,383.2 L1277.16,382.97 L1282.44,382.74 L1287.72,382.53 L1293,382.31 L1298.28,382.11 L1303.56,381.91 L1308.84,381.72 L1314.11,381.53 L1319.39,381.35 L1324.67,381.17 L1329.95,381.01 L1335.23,380.84 L1340.51,380.69 L1345.79,380.54 L1351.07,380.39 L1356.34,380.26 L1361.62,380.12 L1366.9,380 L1372.18,379.88 L1377.46,379.76 L1382.74,379.65 L1388.02,379.55 L1393.3,379.45 L1398.57,379.35 L1403.85,379.27 L1409.13,379.18 L1414.41,379.1 L1419.69,379.03 L1424.97,378.97 L1430.25,378.9 L1435.53,378.85 L1440.8,378.79 L1446.08,378.75 L1451.36,378.7 L1456.64,378.67 L1461.92,378.63 L1467.2,378.61 L1472.48,378.58 L1477.76,378.56 L1483.04,378.55 L1488.31,378.54 L1493.59,378.54 L1498.87,378.54 L1504.15,378.54 L1509.43,378.55 L1514.71,378.56 L1519.99,378.58 L1525.27,378.6 L1530.54,378.62 L1535.82,378.65 L1541.1,378.68 L1546.38,378.72 L1551.66,378.76 L1556.94,378.8 L1562.22,378.85 L1567.5,378.9 L1572.77,378.96 L1578.05,379.02 L1583.33,379.08 L1588.61,379.14 L1593.89,379.21 L1599.17,379.29 L1604.45,379.36 L1609.73,379.44 L1615.01,379.52 L1620.28,379.61 L1625.56,379.7 L1630.84,379.79 L1636.12,379.88 L1641.4,379.98 L1646.68,380.08 L1651.96,380.19 L1657.24,380.29 L1662.51,380.41 L1667.79,380.52 L1673.07,380.64 L1678.35,380.76 L1683.63,380.89 L1688.91,381.02 L1694.19,381.15 L1699.47,381.29 L1704.74,381.43 L1710.02,381.58 L1715.3,381.73 L1720.58,381.89 L1725.86,382.05 L1731.14,382.22 L1736.42,382.39 L1741.7,382.57 L1746.98,382.76 L1752.25,382.95 L1757.53,383.14 L1762.81,383.35 L1768.09,383.56 L1773.37,383.77 L1778.65,383.99 L1783.93,384.22 L1789.21,384.45 L1794.48,384.7 L1799.76,384.94 L1805.04,385.2 L1810.32,385.46 L1815.6,385.73 L1820.88,386.01 L1826.16,386.3 L1831.44,386.59 L1836.71,386.89 L1841.99,387.2 L1847.27,387.52 L1852.55,387.84 L1857.83,388.18 L1863.11,388.52 L1868.39,388.88 L1873.67,389.24 L1878.95,389.61 L1884.22,389.99 L1889.5,390.37 L1894.78,390.77 L1900.06,391.18 L1905.34,391.6 L1910.62,392.03 L1915.9,392.46 L1921.18,392.91 L1926.45,393.36 L1931.73,393.83 L1937.01,394.3 L1942.29,394.78 L1947.57,395.27 L1952.85,395.77 L1958.13,396.27 L1963.41,396.78 L1968.68,397.3 L1973.96,397.83 L1979.24,398.37 L1984.52,398.91 L1989.8,399.46 L1995.08,400.01 L2000.36,400.57 L2005.64,401.14 L2010.91,401.71 L2016.19,402.29 L2021.47,402.87 L2026.75,403.46 L2032.03,404.06 L2037.31,404.66 L2042.59,405.26 L2047.87,405.87 L2053.15,406.48 L2058.42,407.1 L2063.7,407.72 L2068.98,408.34 L2074.26,408.97 L2079.54,409.6 L2084.82,410.24 L2090.1,410.88 L2095.38,411.52 L2100.65,412.16 L2105.93,412.8 L2111.21,413.45 L2116.49,414.1 L2121.77,414.75 L2127.05,415.4 L2132.33,416.06 L2137.61,416.71 L2142.88,417.37 L2148.16,418.03 L2153.44,418.68 L2158.72,419.34 L2164,420" stroke="#FF00FF" stroke-width="12" fill="none" stroke-linecap="round" stroke-linejoin="round"/>
<polygon points="558.34,488.9 599.29,465.26 599.29,512.54" fill="#FF00FF"/>
<polygon points="821.4,424 862.35,400.36 862.35,447.64" fill="#FF00FF"/>
<polygon points="1084.46,390.2 1125.41,366.56 1125.41,413.84" fill="#FF00FF"/>
<polygon points="1347.52,377.5 1388.47,353.86 1388.47,401.14" fill="#FF00FF"/>
<polygon points="1610.58,378.7 1651.53,355.06 1651.53,402.34" fill="#FF00FF"/>
<polygon points="1873.64,387.2 1914.59,363.56 1914.59,410.84" fill="#FF00FF"/>
<polygon points="2136.7,420 2177.65,396.36 2177.65,443.64" fill="#FF00FF"/>
<path d="M585.64,422.8 L590.92,422.05 L596.2,421.29 L601.48,420.54 L606.76,419.78 L612.03,419.03 L617.31,418.27 L622.59,417.52 L627.87,416.77 L633.15,416.02 L638.43,415.26 L643.71,414.51 L648.99,413.76 L654.26,413.01 L659.54,412.26 L664.82,411.51 L670.1,410.76 L675.38,410.02 L680.66,409.27 L685.94,408.52 L691.22,407.78 L696.49,407.04 L701.77,406.29 L707.05,405.55 L712.33,404.81 L717.61,404.07 L722.89,403.33 L728.17,402.6 L733.45,401.86 L738.73,401.13 L744,400.4 L749.28,399.67 L754.56,398.94 L759.84,398.21 L765.12,397.49 L770.4,396.76 L775.68,396.04 L780.96,395.32 L786.23,394.6 L791.51,393.89 L796.79,393.17 L802.07,392.46 L807.35,391.75 L812.63,391.04 L817.91,390.34 L823.19,389.63 L828.46,388.93 L833.74,388.23 L839.02,387.54 L844.3,386.84 L849.58,386.15 L854.86,385.46 L860.14,384.78 L865.42,384.09 L870.69,383.41 L875.97,382.74 L881.25,382.06 L886.53,381.39 L891.81,380.72 L897.09,380.05 L902.37,379.39 L907.65,378.73 L912.93,378.08 L918.2,377.42 L923.48,376.77 L928.76,376.13 L934.04,375.49 L939.32,374.85 L944.6,374.21 L949.88,373.58 L955.16,372.95 L960.43,372.33 L965.71,371.71 L970.99,371.09 L976.27,370.48 L981.55,369.87 L986.83,369.26 L992.11,368.66 L997.39,368.07 L1002.66,367.47 L1007.94,366.89 L1013.22,366.3 L1018.5,365.72 L1023.78,365.15 L1029.06,364.58 L1034.34,364.01 L1039.62,363.45 L1044.9,362.9 L1050.17,362.34 L1055.45,361.8 L1060.73,361.26 L1066.01,360.72 L1071.29,360.19 L1076.57,359.66 L1081.85,359.14 L1087.13,358.62 L1092.4,358.11 L1097.68,357.61 L1102.96,357.11 L1108.24,356.61 L1113.52,356.12 L1118.8,355.64 L1124.08,355.16 L1129.36,354.69 L1134.63,354.22 L1139.91,353.76 L1145.19,353.3 L1150.47,352.85 L1155.75,352.41 L1161.03,351.97 L1166.31,351.54 L1171.59,351.11 L1176.87,350.69 L1182.14,350.27 L1187.42,349.86 L1192.7,349.46 L1197.98,349.06 L1203.26,348.67 L1208.54,348.29 L1213.82,347.91 L1219.1,347.54 L1224.37,347.17 L1229.65,346.81 L1234.93,346.46 L1240.21,346.11 L1245.49,345.77 L1250.77,345.44 L1256.05,345.11 L1261.33,344.79 L1266.6,344.48 L1271.88,344.17 L1277.16,343.87 L1282.44,343.57 L1287.72,343.29 L1293,343 L1298.28,342.73 L1303.56,342.46 L1308.84,342.2 L1314.11,341.95 L1319.39,341.7 L1324.67,341.46 L1329.95,341.23 L1335.23,341 L1340.51,340.78 L1345.79,340.57 L1351.07,340.37 L1356.34,340.17 L1361.62,339.98 L1366.9,339.79 L1372.18,339.62 L1377.46,339.45 L1382.74,339.29 L1388.02,339.13 L1393.3,338.99 L1398.57,338.85 L1403.85,338.71 L1409.13,338.58 L1414.41,338.46 L1419.69,338.34 L1424.97,338.23 L1430.25,338.12 L1435.53,338.02 L1440.8,337.93 L1446.08,337.83 L1451.36,337.75 L1456.64,337.66 L1461.92,337.58 L1467.2,337.51 L1472.48,337.43 L1477.76,337.36 L1483.04,337.3 L1488.31,337.23 L1493.59,337.17 L1498.87,337.11 L1504.15,337.05 L1509.43,337 L1514.71,336.94 L1519.99,336.89 L1525.27,336.84 L1530.54,336.79 L1535.82,336.74 L1541.1,336.69 L1546.38,336.64 L1551.66,336.59 L1556.94,336.54 L1562.22,336.49 L1567.5,336.44 L1572.77,336.39 L1578.05,336.34 L1583.33,336.29 L1588.61,336.23 L1593.89,336.17 L1599.17,336.11 L1604.45,336.05 L1609.73,335.99 L1615.01,335.92 L1620.28,335.85 L1625.56,335.78 L1630.84,335.71 L1636.12,335.63 L1641.4,335.54 L1646.68,335.46 L1651.96,335.37 L1657.24,335.28 L1662.51,335.18 L1667.79,335.09 L1673.07,334.99 L1678.35,334.89 L1683.63,334.79 L1688.91,334.7 L1694.19,334.6 L1699.47,334.5 L1704.74,334.41 L1710.02,334.32 L1715.3,334.23 L1720.58,334.14 L1725.86,334.06 L1731.14,333.98 L1736.42,333.91 L1741.7,333.84 L1746.98,333.77 L1752.25,333.72 L1757.53,333.67 L1762.81,333.62 L1768.09,333.59 L1773.37,333.56 L1778.65,333.54 L1783.93,333.52 L1789.21,333.52 L1794.48,333.53 L1799.76,333.55 L1805.04,333.58 L1810.32,333.61 L1815.6,333.67 L1820.88,333.73 L1826.16,333.81 L1831.44,333.9 L1836.71,334 L1841.99,334.11 L1847.27,334.25 L1852.55,334.39 L1857.83,334.55 L1863.11,334.73 L1868.39,334.93 L1873.67,335.14 L1878.95,335.37 L1884.22,335.61 L1889.5,335.88 L1894.78,336.16 L1900.06,336.46 L1905.34,336.79 L1910.62,337.13 L1915.9,337.49 L1921.18,337.87 L1926.45,338.27 L1931.73,338.68 L1937.01,339.12 L1942.29,339.57 L1947.57,340.04 L1952.85,340.52 L1958.13,341.02 L1963.41,341.54 L1968.68,342.07 L1973.96,342.61 L1979.24,343.17 L1984.52,343.75 L1989.8,344.33 L1995.08,344.93 L2000.36,345.55 L2005.64,346.17 L2010.91,346.81 L2016.19,347.46 L2021.47,348.12 L2026.75,348.79 L2032.03,349.47 L2037.31,350.16 L2042.59,350.86 L2047.87,351.57 L2053.15,352.29 L2058.42,353.02 L2063.7,353.75 L2068.98,354.49 L2074.26,355.24 L2079.54,356 L2084.82,356.76 L2090.1,357.53 L2095.38,358.31 L2100.65,359.09 L2105.93,359.87 L2111.21,360.66 L2116.49,361.45 L2121.77,362.25 L2127.05,363.05 L2132.33,363.85 L2137.61,364.65 L2142.88,365.46 L2148.16,366.27 L2153.44,367.08 L2158.72,367.89 L2164,368.7" stroke="#808000" stroke-width="12" fill="none" stroke-linecap="round" stroke-linejoin="round"/>
<polygon points="585.64,400.4 605.04,411.6 605.04,434 585.64,445.2 566.24,434 566.24,411.6" fill="#808000"/>
<polygon points="848.7,362.8 868.1,374 868.1,396.4 848.7,407.6 829.3,396.4 829.3,374" fill="#808000"/>
<polygon points="1111.76,331.6 1131.16,342.8 1131.16,365.2 1111.76,376.4 1092.36,365.2 1092.36,342.8" fill="#808000"/>
<polygon points="1374.82,314.1 1394.22,325.3 1394.22,347.7 1374.82,358.9 1355.42,347.7 1355.42,325.3" fill="#808000"/>
<polygon points="1637.88,314.8 1657.28,326 1657.28,348.4 1637.88,359.6 1618.48,348.4 1618.48,326" fill="#808000"/>
<polygon points="1900.94,305.9 1920.34,317.1 1920.34,339.5 1900.94,350.7 1881.54,339.5 1881.54,317.1" fill="#808000"/>
<polygon points="2164,346.3 2183.4,357.5 2183.4,379.9 2164,391.1 2144.6,379.9 2144.6,357.5" fill="#808000"/>
<path d="M585.64,347.2 L590.92,346.57 L596.2,345.94 L601.48,345.3 L606.76,344.67 L612.03,344.04 L617.31,343.41 L622.59,342.79 L627.87,342.16 L633.15,341.53 L638.43,340.91 L643.71,340.29 L648.99,339.67 L654.26,339.05 L659.54,338.43 L664.82,337.82 L670.1,337.21 L675.38,336.61 L680.66,336 L685.94,335.4 L691.22,334.8 L696.49,334.21 L701.77,333.62 L707.05,333.04 L712.33,332.45 L717.61,331.88 L722.89,331.3 L728.17,330.74 L733.45,330.18 L738.73,329.62 L744,329.07 L749.28,328.52 L754.56,327.98 L759.84,327.44 L765.12,326.92 L770.4,326.39 L775.68,325.88 L780.96,325.37 L786.23,324.86 L791.51,324.37 L796.79,323.88 L802.07,323.4 L807.35,322.93 L812.63,322.46 L817.91,322 L823.19,321.55 L828.46,321.11 L833.74,320.68 L839.02,320.25 L844.3,319.84 L849.58,319.43 L854.86,319.04 L860.14,318.65 L865.42,318.27 L870.69,317.9 L875.97,317.53 L881.25,317.18 L886.53,316.83 L891.81,316.49 L897.09,316.16 L902.37,315.84 L907.65,315.52 L912.93,315.21 L918.2,314.9 L923.48,314.61 L928.76,314.31 L934.04,314.03 L939.32,313.75 L944.6,313.47 L949.88,313.2 L955.16,312.94 L960.43,312.68 L965.71,312.42 L970.99,312.17 L976.27,311.93 L981.55,311.68 L986.83,311.44 L992.11,311.21 L997.39,310.98 L1002.66,310.75 L1007.94,310.52 L1013.22,310.3 L1018.5,310.08 L1023.78,309.86 L1029.06,309.64 L1034.34,309.43 L1039.62,309.22 L1044.9,309 L1050.17,308.79 L1055.45,308.58 L1060.73,308.37 L1066.01,308.17 L1071.29,307.96 L1076.57,307.75 L1081.85,307.54 L1087.13,307.33 L1092.4,307.12 L1097.68,306.91 L1102.96,306.7 L1108.24,306.49 L1113.52,306.28 L1118.8,306.06 L1124.08,305.85 L1129.36,305.63 L1134.63,305.41 L1139.91,305.19 L1145.19,304.97 L1150.47,304.75 L1155.75,304.53 L1161.03,304.31 L1166.31,304.09 L1171.59,303.87 L1176.87,303.66 L1182.14,303.44 L1187.42,303.22 L1192.7,303.01 L1197.98,302.79 L1203.26,302.58 L1208.54,302.37 L1213.82,302.16 L1219.1,301.95 L1224.37,301.75 L1229.65,301.55 L1234.93,301.35 L1240.21,301.16 L1245.49,300.96 L1250.77,300.78 L1256.05,300.59 L1261.33,300.41 L1266.6,300.23 L1271.88,300.06 L1277.16,299.89 L1282.44,299.73 L1287.72,299.57 L1293,299.41 L1298.28,299.26 L1303.56,299.12 L1308.84,298.98 L1314.11,298.85 L1319.39,298.72 L1324.67,298.6 L1329.95,298.49 L1335.23,298.38 L1340.51,298.28 L1345.79,298.18 L1351.07,298.1 L1356.34,298.02 L1361.62,297.95 L1366.9,297.88 L1372.18,297.83 L1377.46,297.78 L1382.74,297.74 L1388.02,297.7 L1393.3,297.68 L1398.57,297.66 L1403.85,297.66 L1409.13,297.65 L1414.41,297.66 L1419.69,297.67 L1424.97,297.69 L1430.25,297.72 L1435.53,297.76 L1440.8,297.8 L1446.08,297.84 L1451.36,297.9 L1456.64,297.96 L1461.92,298.02 L1467.2,298.1 L1472.48,298.17 L1477.76,298.26 L1483.04,298.35 L1488.31,298.44 L1493.59,298.54 L1498.87,298.65 L1504.15,298.76 L1509.43,298.88 L1514.71,299 L1519.99,299.12 L1525.27,299.25 L1530.54,299.39 L1535.82,299.53 L1541.1,299.67 L1546.38,299.81 L1551.66,299.97 L1556.94,300.12 L1562.22,300.28 L1567.5,300.44 L1572.77,300.61 L1578.05,300.77 L1583.33,300.94 L1588.61,301.12 L1593.89,301.3 L1599.17,301.48 L1604.45,301.66 L1609.73,301.84 L1615.01,302.03 L1620.28,302.22 L1625.56,302.41 L1630.84,302.61 L1636.12,302.8 L1641.4,303 L1646.68,303.2 L1651.96,303.4 L1657.24,303.6 L1662.51,303.8 L1667.79,304.01 L1673.07,304.22 L1678.35,304.43 L1683.63,304.64 L1688.91,304.85 L1694.19,305.07 L1699.47,305.29 L1704.74,305.51 L1710.02,305.73 L1715.3,305.96 L1720.58,306.19 L1725.86,306.42 L1731.14,306.66 L1736.42,306.89 L1741.7,307.13 L1746.98,307.38 L1752.25,307.62 L1757.53,307.87 L1762.81,308.13 L1768.09,308.38 L1773.37,308.64 L1778.65,308.91 L1783.93,309.17 L1789.21,309.44 L1794.48,309.72 L1799.76,309.99 L1805.04,310.27 L1810.32,310.56 L1815.6,310.85 L1820.88,311.14 L1826.16,311.44 L1831.44,311.74 L1836.71,312.04 L1841.99,312.35 L1847.27,312.67 L1852.55,312.98 L1857.83,313.31 L1863.11,313.63 L1868.39,313.97 L1873.67,314.3 L1878.95,314.64 L1884.22,314.99 L1889.5,315.34 L1894.78,315.7 L1900.06,316.06 L1905.34,316.42 L1910.62,316.79 L1915.9,317.17 L1921.18,317.55 L1926.45,317.93 L1931.73,318.32 L1937.01,318.72 L1942.29,319.12 L1947.57,319.52 L1952.85,319.93 L1958.13,320.34 L1963.41,320.76 L1968.68,321.18 L1973.96,321.6 L1979.24,322.03 L1984.52,322.46 L1989.8,322.89 L1995.08,323.33 L2000.36,323.77 L2005.64,324.21 L2010.91,324.66 L2016.19,325.11 L2021.47,325.56 L2026.75,326.02 L2032.03,326.48 L2037.31,326.94 L2042.59,327.4 L2047.87,327.87 L2053.15,328.33 L2058.42,328.8 L2063.7,329.28 L2068.98,329.75 L2074.26,330.23 L2079.54,330.7 L2084.82,331.18 L2090.1,331.66 L2095.38,332.15 L2100.65,332.63 L2105.93,333.11 L2111.21,333.6 L2116.49,334.09 L2121.77,334.58 L2127.05,335.06 L2132.33,335.55 L2137.61,336.04 L2142.88,336.53 L2148.16,337.03 L2153.44,337.52 L2158.72,338.01 L2164,338.5" stroke="#960000" stroke-width="12" fill="none" stroke-linecap="round" stroke-linejoin="round"/>
<polygon points="585.64,323.8 591.69,338.87 607.89,339.97 595.44,350.38 599.39,366.13 585.64,357.5 571.89,366.13 575.84,350.38 563.39,339.97 579.59,338.87" fill="#960000"/>
<polygon points="848.7,292.3 854.75,307.37 870.95,308.47 858.5,318.88 862.45,334.63 848.7,326 834.95,334.63 838.9,318.88 826.45,308.47 842.65,307.37" fill="#960000"/>
<polygon points="1111.76,283.6 1117.81,298.67 1134.01,299.77 1121.56,310.18 1125.51,325.93 1111.76,317.3 1098.01,325.93 1101.96,310.18 1089.51,299.77 1105.71,298.67" fill="#960000"/>
<polygon points="1374.82,271 1380.87,286.07 1397.07,287.17 1384.62,297.58 1388.57,313.33 1374.82,304.7 1361.07,313.33 1365.02,297.58 1352.57,287.17 1368.77,286.07" fill="#960000"/>
<polygon points="1637.88,278.8 1643.93,293.87 1660.13,294.97 1647.68,305.38 1651.63,321.13 1637.88,312.5 1624.13,321.13 1628.08,305.38 1615.63,294.97 1631.83,293.87" fill="#960000"/>
<polygon points="1900.94,290.6 1906.99,305.67 1923.19,306.77 1910.74,317.18 1914.69,332.93 1900.94,324.3 1887.19,332.93 1891.14,317.18 1878.69,306.77 1894.89,305.67" fill="#960000"/>
<polygon points="2164,315.1 2170.05,330.17 2186.25,331.27 2173.8,341.68 2177.75,357.43 2164,348.8 2150.25,357.43 2154.2,341.68 2141.75,331.27 2157.95,330.17" fill="#960000"/>
<path d="M585.64,290.5 L590.92,290.11 L596.2,289.73 L601.48,289.34 L606.76,288.96 L612.03,288.58 L617.31,288.19 L622.59,287.81 L627.87,287.43 L633.15,287.05 L638.43,286.67 L643.71,286.29 L648.99,285.92 L654.26,285.54 L659.54,285.17 L664.82,284.8 L670.1,284.44 L675.38,284.07 L680.66,283.71 L685.94,283.35 L691.22,282.99 L696.49,282.63 L701.77,282.28 L707.05,281.94 L712.33,281.59 L717.61,281.25 L722.89,280.91 L728.17,280.58 L733.45,280.25 L738.73,279.92 L744,279.6 L749.28,279.28 L754.56,278.97 L759.84,278.66 L765.12,278.36 L770.4,278.06 L775.68,277.77 L780.96,277.48 L786.23,277.2 L791.51,276.92 L796.79,276.65 L802.07,276.38 L807.35,276.12 L812.63,275.87 L817.91,275.62 L823.19,275.38 L828.46,275.15 L833.74,274.92 L839.02,274.7 L844.3,274.49 L849.58,274.28 L854.86,274.08 L860.14,273.89 L865.42,273.71 L870.69,273.53 L875.97,273.36 L881.25,273.2 L886.53,273.04 L891.81,272.89 L897.09,272.75 L902.37,272.61 L907.65,272.48 L912.93,272.36 L918.2,272.25 L923.48,272.14 L928.76,272.04 L934.04,271.94 L939.32,271.85 L944.6,271.77 L949.88,271.69 L955.16,271.62 L960.43,271.56 L965.71,271.5 L970.99,271.45 L976.27,271.4 L981.55,271.36 L986.83,271.33 L992.11,271.3 L997.39,271.28 L1002.66,271.27 L1007.94,271.26 L1013.22,271.25 L1018.5,271.25 L1023.78,271.26 L1029.06,271.27 L1034.34,271.29 L1039.62,271.32 L1044.9,271.35 L1050.17,271.38 L1055.45,271.42 L1060.73,271.47 L1066.01,271.52 L1071.29,271.57 L1076.57,271.63 L1081.85,271.7 L1087.13,271.77 L1092.4,271.85 L1097.68,271.93 L1102.96,272.01 L1108.24,272.1 L1113.52,272.2 L1118.8,272.3 L1124.08,272.4 L1129.36,272.51 L1134.63,272.63 L1139.91,272.74 L1145.19,272.87 L1150.47,272.99 L1155.75,273.12 L1161.03,273.25 L1166.31,273.39 L1171.59,273.53 L1176.87,273.67 L1182.14,273.82 L1187.42,273.96 L1192.7,274.12 L1197.98,274.27 L1203.26,274.43 L1208.54,274.58 L1213.82,274.74 L1219.1,274.91 L1224.37,275.07 L1229.65,275.24 L1234.93,275.4 L1240.21,275.57 L1245.49,275.74 L1250.77,275.91 L1256.05,276.08 L1261.33,276.26 L1266.6,276.43 L1271.88,276.61 L1277.16,276.78 L1282.44,276.95 L1287.72,277.13 L1293,277.3 L1298.28,277.48 L1303.56,277.65 L1308.84,277.83 L1314.11,278 L1319.39,278.17 L1324.67,278.34 L1329.95,278.51 L1335.23,278.68 L1340.51,278.85 L1345.79,279.02 L1351.07,279.18 L1356.34,279.35 L1361.62,279.51 L1366.9,279.67 L1372.18,279.82 L1377.46,279.98 L1382.74,280.13 L1388.02,280.28 L1393.3,280.43 L1398.57,280.57 L1403.85,280.71 L1409.13,280.86 L1414.41,280.99 L1419.69,281.13 L1424.97,281.27 L1430.25,281.4 L1435.53,281.53 L1440.8,281.66 L1446.08,281.79 L1451.36,281.91 L1456.64,282.04 L1461.92,282.16 L1467.2,282.28 L1472.48,282.4 L1477.76,282.52 L1483.04,282.64 L1488.31,282.75 L1493.59,282.87 L1498.87,282.98 L1504.15,283.09 L1509.43,283.2 L1514.71,283.31 L1519.99,283.42 L1525.27,283.53 L1530.54,283.64 L1535.82,283.74 L1541.1,283.85 L1546.38,283.96 L1551.66,284.06 L1556.94,284.16 L1562.22,284.27 L1567.5,284.37 L1572.77,284.47 L1578.05,284.57 L1583.33,284.67 L1588.61,284.78 L1593.89,284.88 L1599.17,284.98 L1604.45,285.08 L1609.73,285.18 L1615.01,285.28 L1620.28,285.38 L1625.56,285.48 L1630.84,285.58 L1636.12,285.68 L1641.4,285.78 L1646.68,285.89 L1651.96,285.99 L1657.24,286.09 L1662.51,286.2 L1667.79,286.3 L1673.07,286.41 L1678.35,286.52 L1683.63,286.63 L1688.91,286.74 L1694.19,286.85 L1699.47,286.97 L1704.74,287.09 L1710.02,287.21 L1715.3,287.33 L1720.58,287.46 L1725.86,287.59 L1731.14,287.72 L1736.42,287.86 L1741.7,288 L1746.98,288.15 L1752.25,288.3 L1757.53,288.45 L1762.81,288.61 L1768.09,288.77 L1773.37,288.94 L1778.65,289.11 L1783.93,289.29 L1789.21,289.48 L1794.48,289.67 L1799.76,289.86 L1805.04,290.06 L1810.32,290.27 L1815.6,290.49 L1820.88,290.71 L1826.16,290.93 L1831.44,291.17 L1836.71,291.41 L1841.99,291.66 L1847.27,291.92 L1852.55,292.18 L1857.83,292.45 L1863.11,292.73 L1868.39,293.02 L1873.67,293.32 L1878.95,293.63 L1884.22,293.94 L1889.5,294.27 L1894.78,294.6 L1900.06,294.94 L1905.34,295.29 L1910.62,295.66 L1915.9,296.03 L1921.18,296.41 L1926.45,296.8 L1931.73,297.19 L1937.01,297.6 L1942.29,298.02 L1947.57,298.44 L1952.85,298.87 L1958.13,299.31 L1963.41,299.75 L1968.68,300.21 L1973.96,300.67 L1979.24,301.14 L1984.52,301.61 L1989.8,302.09 L1995.08,302.58 L2000.36,303.07 L2005.64,303.57 L2010.91,304.08 L2016.19,304.59 L2021.47,305.11 L2026.75,305.63 L2032.03,306.16 L2037.31,306.69 L2042.59,307.22 L2047.87,307.76 L2053.15,308.31 L2058.42,308.86 L2063.7,309.41 L2068.98,309.97 L2074.26,310.53 L2079.54,311.09 L2084.82,311.66 L2090.1,312.23 L2095.38,312.8 L2100.65,313.38 L2105.93,313.95 L2111.21,314.53 L2116.49,315.11 L2121.77,315.7 L2127.05,316.28 L2132.33,316.87 L2137.61,317.45 L2142.88,318.04 L2148.16,318.63 L2153.44,319.22 L2158.72,319.81 L2164,320.4" stroke="#8F00FF" stroke-width="12" fill="none" stroke-linecap="round" stroke-linejoin="round"/>
<polygon points="585.64,267.3 607.7,283.33 599.28,309.27 572,309.27 563.58,283.33" fill="#8F00FF"/>
<polygon points="848.7,248.1 870.76,264.13 862.34,290.07 835.06,290.07 826.64,264.13" fill="#8F00FF"/>
<polygon points="1111.76,247 1133.82,263.03 1125.4,288.97 1098.12,288.97 1089.7,263.03" fill="#8F00FF"/>
<polygon points="1374.82,257.7 1396.88,273.73 1388.46,299.67 1361.18,299.67 1352.76,273.73" fill="#8F00FF"/>
<polygon points="1637.88,262.4 1659.94,278.43 1651.52,304.37 1624.24,304.37 1615.82,278.43" fill="#8F00FF"/>
<polygon points="1900.94,267.8 1923,283.83 1914.58,309.77 1887.3,309.77 1878.88,283.83" fill="#8F00FF"/>
<polygon points="2164,297.2 2186.06,313.23 2177.64,339.17 2150.36,339.17 2141.94,313.23" fill="#8F00FF"/>
<path d="M322.58,1516.9 L324.34,1515.85 L326.1,1514.8 L327.86,1513.75 L329.62,1512.69 L331.38,1511.64 L333.14,1510.59 L334.9,1509.54 L336.66,1508.49 L338.42,1507.44 L340.18,1506.39 L341.94,1505.33 L343.7,1504.28 L345.45,1503.23 L347.21,1502.18 L348.97,1501.13 L350.73,1500.08 L352.49,1499.03 L354.25,1497.98 L356.01,1496.93 L357.77,1495.88 L359.53,1494.83 L361.29,1493.78 L363.05,1492.73 L364.81,1491.68 L366.57,1490.63 L368.33,1489.58 L370.09,1488.53 L371.85,1487.48 L373.61,1486.43 L375.37,1485.38 L377.13,1484.33 L378.89,1483.29 L380.65,1482.24 L382.41,1481.19 L384.17,1480.14 L385.93,1479.09 L387.69,1478.05 L389.44,1477 L391.2,1475.95 L392.96,1474.9 L394.72,1473.86 L396.48,1472.81 L398.24,1471.77 L400,1470.72 L401.76,1469.67 L403.52,1468.63 L405.28,1467.58 L407.04,1466.54 L408.8,1465.5 L410.56,1464.45 L412.32,1463.41 L414.08,1462.36 L415.84,1461.32 L417.6,1460.28 L419.36,1459.24 L421.12,1458.19 L422.88,1457.15 L424.64,1456.11 L426.4,1455.07 L428.16,1454.03 L429.92,1452.99 L431.68,1451.95 L433.43,1450.91 L435.19,1449.87 L436.95,1448.83 L438.71,1447.79 L440.47,1446.76 L442.23,1445.72 L443.99,1444.68 L445.75,1443.64 L447.51,1442.61 L449.27,1441.57 L451.03,1440.54 L452.79,1439.5 L454.55,1438.47 L456.31,1437.43 L458.07,1436.4 L459.83,1435.37 L461.59,1434.33 L463.35,1433.3 L465.11,1432.27 L466.87,1431.24 L468.63,1430.21 L470.39,1429.18 L472.15,1428.15 L473.91,1427.12 L475.67,1426.09 L477.42,1425.06 L479.18,1424.03 L480.94,1423.01 L482.7,1421.98 L484.46,1420.95 L486.22,1419.93 L487.98,1418.9 L489.74,1417.88 L491.5,1416.86 L493.26,1415.83 L495.02,1414.81 L496.78,1413.79 L498.54,1412.77 L500.3,1411.75 L502.06,1410.73 L503.82,1409.71 L505.58,1408.69 L507.34,1407.67 L509.1,1406.65 L510.86,1405.64 L512.62,1404.62 L514.38,1403.6 L516.14,1402.59 L517.9,1401.57 L519.66,1400.56 L521.41,1399.55 L523.17,1398.54 L524.93,1397.52 L526.69,1396.51 L528.45,1395.5 L530.21,1394.49 L531.97,1393.49 L533.73,1392.48 L535.49,1391.47 L537.25,1390.46 L539.01,1389.46 L540.77,1388.45 L542.53,1387.45 L544.29,1386.45 L546.05,1385.44 L547.81,1384.44 L549.57,1383.44 L551.33,1382.44 L553.09,1381.44 L554.85,1380.44 L556.61,1379.44 L558.37,1378.45 L560.13,1377.45 L561.89,1376.45 L563.65,1375.46 L565.4,1374.47 L567.16,1373.47 L568.92,1372.48 L570.68,1371.49 L572.44,1370.5 L574.2,1369.51 L575.96,1368.52 L577.72,1367.53 L579.48,1366.55 L581.24,1365.56 L583,1364.58 L584.76,1363.59 L586.52,1362.61 L588.28,1361.63 L590.04,1360.64 L591.8,1359.66 L593.56,1358.68 L595.32,1357.71 L597.08,1356.73 L598.84,1355.75 L600.6,1354.77 L602.36,1353.8 L604.12,1352.82 L605.88,1351.85 L607.63,1350.88 L609.39,1349.91 L611.15,1348.94 L612.91,1347.97 L614.67,1347 L616.43,1346.03 L618.19,1345.06 L619.95,1344.09 L621.71,1343.13 L623.47,1342.16 L625.23,1341.2 L626.99,1340.23 L628.75,1339.27 L630.51,1338.31 L632.27,1337.34 L634.03,1336.38 L635.79,1335.42 L637.55,1334.46 L639.31,1333.51 L641.07,1332.55 L642.83,1331.59 L644.59,1330.63 L646.35,1329.68 L648.11,1328.72 L649.87,1327.77 L651.62,1326.82 L653.38,1325.86 L655.14,1324.91 L656.9,1323.96 L658.66,1323.01 L660.42,1322.06 L662.18,1321.11 L663.94,1320.16 L665.7,1319.21 L667.46,1318.26 L669.22,1317.31 L670.98,1316.37 L672.74,1315.42 L674.5,1314.48 L676.26,1313.53 L678.02,1312.59 L679.78,1311.65 L681.54,1310.7 L683.3,1309.76 L685.06,1308.82 L686.82,1307.88 L688.58,1306.94 L690.34,1306 L692.1,1305.06 L693.86,1304.12 L695.61,1303.18 L697.37,1302.24 L699.13,1301.3 L700.89,1300.37 L702.65,1299.43 L704.41,1298.5 L706.17,1297.56 L707.93,1296.62 L709.69,1295.69 L711.45,1294.76 L713.21,1293.82 L714.97,1292.89 L716.73,1291.96 L718.49,1291.03 L720.25,1290.09 L722.01,1289.16 L723.77,1288.23 L725.53,1287.3 L727.29,1286.37 L729.05,1285.44 L730.81,1284.51 L732.57,1283.59 L734.33,1282.66 L736.09,1281.73 L737.85,1280.8 L739.6,1279.88 L741.36,1278.95 L743.12,1278.02 L744.88,1277.1 L746.64,1276.17 L748.4,1275.25 L750.16,1274.32 L751.92,1273.4 L753.68,1272.47 L755.44,1271.55 L757.2,1270.63 L758.96,1269.7 L760.72,1268.78 L762.48,1267.86 L764.24,1266.93 L766,1266.01 L767.76,1265.09 L769.52,1264.17 L771.28,1263.25 L773.04,1262.33 L774.8,1261.41 L776.56,1260.49 L778.32,1259.57 L780.08,1258.65 L781.84,1257.73 L783.59,1256.81 L785.35,1255.89 L787.11,1254.97 L788.87,1254.05 L790.63,1253.13 L792.39,1252.21 L794.15,1251.3 L795.91,1250.38 L797.67,1249.46 L799.43,1248.54 L801.19,1247.63 L802.95,1246.71 L804.71,1245.79 L806.47,1244.88 L808.23,1243.96 L809.99,1243.04 L811.75,1242.13 L813.51,1241.21 L815.27,1240.29 L817.03,1239.38 L818.79,1238.46 L820.55,1237.54 L822.31,1236.63 L824.07,1235.71 L825.83,1234.8 L827.58,1233.88 L829.34,1232.97 L831.1,1232.05 L832.86,1231.14 L834.62,1230.22 L836.38,1229.31 L838.14,1228.39 L839.9,1227.48 L841.66,1226.56 L843.42,1225.65 L845.18,1224.73 L846.94,1223.82 L848.7,1222.9" stroke="#000000" stroke-width="12" fill="none" stroke-linecap="round" stroke-linejoin="round" stroke-dasharray="36 29.15 0 29.15"/>
<rect x="304.48" y="1498.8" width="36.2" height="36.2" fill="#000000"/>
<rect x="567.54" y="1341.6" width="36.2" height="36.2" fill="#000000"/>
<rect x="830.6" y="1204.8" width="36.2" height="36.2" fill="#000000"/>
<path d="M322.58,1177.7 L326.1,1175.94 L329.62,1174.18 L333.14,1172.41 L336.66,1170.65 L340.18,1168.89 L343.7,1167.13 L347.21,1165.37 L350.73,1163.61 L354.25,1161.85 L357.77,1160.09 L361.29,1158.32 L364.81,1156.56 L368.33,1154.8 L371.85,1153.04 L375.37,1151.28 L378.89,1149.53 L382.41,1147.77 L385.93,1146.01 L389.44,1144.25 L392.96,1142.49 L396.48,1140.74 L400,1138.98 L403.52,1137.22 L407.04,1135.47 L410.56,1133.71 L414.08,1131.96 L417.6,1130.2 L421.12,1128.45 L424.64,1126.7 L428.16,1124.95 L431.68,1123.19 L435.19,1121.44 L438.71,1119.69 L442.23,1117.95 L445.75,1116.2 L449.27,1114.45 L452.79,1112.7 L456.31,1110.96 L459.83,1109.21 L463.35,1107.47 L466.87,1105.72 L470.39,1103.98 L473.91,1102.24 L477.42,1100.5 L480.94,1098.76 L484.46,1097.02 L487.98,1095.29 L491.5,1093.55 L495.02,1091.81 L498.54,1090.08 L502.06,1088.35 L505.58,1086.62 L509.1,1084.89 L512.62,1083.16 L516.14,1081.43 L519.66,1079.7 L523.17,1077.98 L526.69,1076.25 L530.21,1074.53 L533.73,1072.81 L537.25,1071.09 L540.77,1069.37 L544.29,1067.65 L547.81,1065.93 L551.33,1064.22 L554.85,1062.51 L558.37,1060.79 L561.89,1059.08 L565.4,1057.38 L568.92,1055.67 L572.44,1053.96 L575.96,1052.26 L579.48,1050.56 L583,1048.86 L586.52,1047.16 L590.04,1045.46 L593.56,1043.77 L597.08,1042.07 L600.6,1040.38 L604.12,1038.69 L607.63,1037.01 L611.15,1035.32 L614.67,1033.64 L618.19,1031.96 L621.71,1030.29 L625.23,1028.62 L628.75,1026.95 L632.27,1025.28 L635.79,1023.62 L639.31,1021.96 L642.83,1020.3 L646.35,1018.65 L649.87,1017 L653.38,1015.36 L656.9,1013.72 L660.42,1012.08 L663.94,1010.45 L667.46,1008.83 L670.98,1007.2 L674.5,1005.59 L678.02,1003.98 L681.54,1002.37 L685.06,1000.77 L688.58,999.17 L692.1,997.58 L695.61,996 L699.13,994.42 L702.65,992.84 L706.17,991.28 L709.69,989.71 L713.21,988.16 L716.73,986.61 L720.25,985.07 L723.77,983.53 L727.29,982 L730.81,980.48 L734.33,978.97 L737.85,977.46 L741.36,975.96 L744.88,974.46 L748.4,972.98 L751.92,971.5 L755.44,970.03 L758.96,968.57 L762.48,967.11 L766,965.67 L769.52,964.23 L773.04,962.8 L776.56,961.38 L780.08,959.97 L783.59,958.56 L787.11,957.17 L790.63,955.78 L794.15,954.41 L797.67,953.04 L801.19,951.68 L804.71,950.34 L808.23,949 L811.75,947.67 L815.27,946.35 L818.79,945.04 L822.31,943.74 L825.83,942.46 L829.34,941.18 L832.86,939.91 L836.38,938.66 L839.9,937.41 L843.42,936.18 L846.94,934.96 L850.46,933.75 L853.98,932.55 L857.5,931.36 L861.02,930.18 L864.54,929.01 L868.06,927.86 L871.57,926.71 L875.09,925.58 L878.61,924.45 L882.13,923.34 L885.65,922.24 L889.17,921.15 L892.69,920.07 L896.21,918.99 L899.73,917.93 L903.25,916.88 L906.77,915.84 L910.29,914.81 L913.81,913.79 L917.32,912.78 L920.84,911.78 L924.36,910.79 L927.88,909.8 L931.4,908.83 L934.92,907.87 L938.44,906.91 L941.96,905.97 L945.48,905.03 L949,904.1 L952.52,903.19 L956.04,902.28 L959.55,901.38 L963.07,900.48 L966.59,899.6 L970.11,898.73 L973.63,897.86 L977.15,897 L980.67,896.15 L984.19,895.31 L987.71,894.48 L991.23,893.65 L994.75,892.84 L998.27,892.03 L1001.79,891.22 L1005.3,890.43 L1008.82,889.64 L1012.34,888.86 L1015.86,888.09 L1019.38,887.33 L1022.9,886.57 L1026.42,885.82 L1029.94,885.08 L1033.46,884.34 L1036.98,883.62 L1040.5,882.89 L1044.02,882.18 L1047.53,881.47 L1051.05,880.77 L1054.57,880.07 L1058.09,879.38 L1061.61,878.7 L1065.13,878.03 L1068.65,877.36 L1072.17,876.69 L1075.69,876.03 L1079.21,875.38 L1082.73,874.74 L1086.25,874.1 L1089.77,873.46 L1093.28,872.83 L1096.8,872.21 L1100.32,871.59 L1103.84,870.98 L1107.36,870.37 L1110.88,869.77 L1114.4,869.17 L1117.92,868.58 L1121.44,867.99 L1124.96,867.41 L1128.48,866.83 L1132,866.26 L1135.51,865.69 L1139.03,865.12 L1142.55,864.56 L1146.07,864.01 L1149.59,863.46 L1153.11,862.91 L1156.63,862.37 L1160.15,861.83 L1163.67,861.3 L1167.19,860.77 L1170.71,860.25 L1174.23,859.73 L1177.74,859.21 L1181.26,858.69 L1184.78,858.18 L1188.3,857.68 L1191.82,857.17 L1195.34,856.68 L1198.86,856.18 L1202.38,855.69 L1205.9,855.2 L1209.42,854.71 L1212.94,854.23 L1216.46,853.75 L1219.98,853.27 L1223.49,852.8 L1227.01,852.33 L1230.53,851.86 L1234.05,851.4 L1237.57,850.94 L1241.09,850.48 L1244.61,850.02 L1248.13,849.56 L1251.65,849.11 L1255.17,848.66 L1258.69,848.21 L1262.21,847.77 L1265.72,847.33 L1269.24,846.89 L1272.76,846.45 L1276.28,846.01 L1279.8,845.58 L1283.32,845.14 L1286.84,844.71 L1290.36,844.28 L1293.88,843.85 L1297.4,843.43 L1300.92,843 L1304.44,842.58 L1307.96,842.16 L1311.47,841.73 L1314.99,841.31 L1318.51,840.9 L1322.03,840.48 L1325.55,840.06 L1329.07,839.65 L1332.59,839.23 L1336.11,838.82 L1339.63,838.4 L1343.15,837.99 L1346.67,837.58 L1350.19,837.17 L1353.7,836.76 L1357.22,836.35 L1360.74,835.94 L1364.26,835.53 L1367.78,835.12 L1371.3,834.71 L1374.82,834.3" stroke="#FF0000" stroke-width="12" fill="none" stroke-linecap="round" stroke-linejoin="round" stroke-dasharray="36 29.15 0 29.15"/>
<circle cx="322.58" cy="1177.7" r="20.1" fill="#FF0000"/>
<circle cx="585.64" cy="1046" r="20.1" fill="#FF0000"/>
<circle cx="848.7" cy="923.8" r="20.1" fill="#FF0000"/>
<circle cx="1111.76" cy="864.9" r="20.1" fill="#FF0000"/>
<circle cx="1374.82" cy="834.3" r="20.1" fill="#FF0000"/>
<path d="M322.58,986.7 L326.98,983.86 L331.38,981.02 L335.78,978.19 L340.18,975.35 L344.57,972.52 L348.97,969.68 L353.37,966.85 L357.77,964.02 L362.17,961.19 L366.57,958.36 L370.97,955.54 L375.37,952.72 L379.77,949.9 L384.17,947.09 L388.56,944.27 L392.96,941.47 L397.36,938.66 L401.76,935.86 L406.16,933.07 L410.56,930.28 L414.96,927.49 L419.36,924.71 L423.76,921.94 L428.16,919.17 L432.55,916.41 L436.95,913.65 L441.35,910.9 L445.75,908.16 L450.15,905.42 L454.55,902.69 L458.95,899.97 L463.35,897.26 L467.75,894.55 L472.15,891.85 L476.54,889.16 L480.94,886.48 L485.34,883.81 L489.74,881.15 L494.14,878.5 L498.54,875.86 L502.94,873.22 L507.34,870.6 L511.74,867.99 L516.14,865.39 L520.53,862.8 L524.93,860.22 L529.33,857.65 L533.73,855.1 L538.13,852.55 L542.53,850.02 L546.93,847.5 L551.33,845 L555.73,842.5 L560.13,840.02 L564.52,837.56 L568.92,835.11 L573.32,832.67 L577.72,830.24 L582.12,827.83 L586.52,825.44 L590.92,823.06 L595.32,820.69 L599.72,818.34 L604.12,816.01 L608.51,813.69 L612.91,811.39 L617.31,809.1 L621.71,806.83 L626.11,804.57 L630.51,802.33 L634.91,800.11 L639.31,797.9 L643.71,795.71 L648.11,793.54 L652.5,791.38 L656.9,789.24 L661.3,787.12 L665.7,785.02 L670.1,782.93 L674.5,780.86 L678.9,778.8 L683.3,776.77 L687.7,774.75 L692.1,772.75 L696.49,770.77 L700.89,768.8 L705.29,766.86 L709.69,764.93 L714.09,763.02 L718.49,761.13 L722.89,759.26 L727.29,757.41 L731.69,755.57 L736.09,753.76 L740.48,751.97 L744.88,750.19 L749.28,748.43 L753.68,746.7 L758.08,744.98 L762.48,743.29 L766.88,741.61 L771.28,739.95 L775.68,738.32 L780.08,736.7 L784.47,735.11 L788.87,733.53 L793.27,731.98 L797.67,730.45 L802.07,728.94 L806.47,727.45 L810.87,725.98 L815.27,724.53 L819.67,723.11 L824.07,721.7 L828.46,720.32 L832.86,718.96 L837.26,717.62 L841.66,716.31 L846.06,715.02 L850.46,713.74 L854.86,712.5 L859.26,711.27 L863.66,710.07 L868.06,708.88 L872.45,707.72 L876.85,706.58 L881.25,705.45 L885.65,704.35 L890.05,703.27 L894.45,702.2 L898.85,701.16 L903.25,700.13 L907.65,699.12 L912.05,698.12 L916.44,697.15 L920.84,696.19 L925.24,695.24 L929.64,694.31 L934.04,693.4 L938.44,692.5 L942.84,691.61 L947.24,690.74 L951.64,689.88 L956.04,689.04 L960.43,688.21 L964.83,687.39 L969.23,686.58 L973.63,685.78 L978.03,685 L982.43,684.22 L986.83,683.46 L991.23,682.7 L995.63,681.96 L1000.03,681.22 L1004.42,680.49 L1008.82,679.78 L1013.22,679.06 L1017.62,678.36 L1022.02,677.66 L1026.42,676.97 L1030.82,676.29 L1035.22,675.61 L1039.62,674.94 L1044.02,674.27 L1048.41,673.61 L1052.81,672.95 L1057.21,672.29 L1061.61,671.64 L1066.01,670.99 L1070.41,670.34 L1074.81,669.7 L1079.21,669.06 L1083.61,668.42 L1088.01,667.78 L1092.4,667.14 L1096.8,666.5 L1101.2,665.86 L1105.6,665.22 L1110,664.57 L1114.4,663.93 L1118.8,663.29 L1123.2,662.64 L1127.6,661.99 L1132,661.35 L1136.39,660.7 L1140.79,660.05 L1145.19,659.4 L1149.59,658.76 L1153.99,658.11 L1158.39,657.47 L1162.79,656.82 L1167.19,656.18 L1171.59,655.54 L1175.99,654.91 L1180.38,654.27 L1184.78,653.64 L1189.18,653.01 L1193.58,652.39 L1197.98,651.77 L1202.38,651.15 L1206.78,650.54 L1211.18,649.93 L1215.58,649.33 L1219.98,648.73 L1224.37,648.14 L1228.77,647.56 L1233.17,646.98 L1237.57,646.4 L1241.97,645.84 L1246.37,645.28 L1250.77,644.73 L1255.17,644.18 L1259.57,643.65 L1263.97,643.12 L1268.36,642.6 L1272.76,642.09 L1277.16,641.59 L1281.56,641.1 L1285.96,640.62 L1290.36,640.14 L1294.76,639.68 L1299.16,639.23 L1303.56,638.79 L1307.96,638.36 L1312.35,637.94 L1316.75,637.54 L1321.15,637.15 L1325.55,636.76 L1329.95,636.4 L1334.35,636.04 L1338.75,635.7 L1343.15,635.37 L1347.55,635.06 L1351.95,634.76 L1356.34,634.47 L1360.74,634.2 L1365.14,633.94 L1369.54,633.7 L1373.94,633.48 L1378.34,633.27 L1382.74,633.07 L1387.14,632.9 L1391.54,632.73 L1395.94,632.59 L1400.33,632.45 L1404.73,632.33 L1409.13,632.23 L1413.53,632.14 L1417.93,632.06 L1422.33,632 L1426.73,631.95 L1431.13,631.91 L1435.53,631.89 L1439.93,631.87 L1444.32,631.87 L1448.72,631.88 L1453.12,631.91 L1457.52,631.94 L1461.92,631.98 L1466.32,632.04 L1470.72,632.11 L1475.12,632.18 L1479.52,632.27 L1483.92,632.36 L1488.31,632.47 L1492.71,632.58 L1497.11,632.71 L1501.51,632.84 L1505.91,632.98 L1510.31,633.13 L1514.71,633.28 L1519.11,633.44 L1523.51,633.61 L1527.91,633.79 L1532.3,633.98 L1536.7,634.17 L1541.1,634.36 L1545.5,634.56 L1549.9,634.77 L1554.3,634.99 L1558.7,635.2 L1563.1,635.43 L1567.5,635.66 L1571.9,635.89 L1576.29,636.12 L1580.69,636.36 L1585.09,636.61 L1589.49,636.85 L1593.89,637.1 L1598.29,637.35 L1602.69,637.61 L1607.09,637.87 L1611.49,638.12 L1615.89,638.38 L1620.28,638.65 L1624.68,638.91 L1629.08,639.17 L1633.48,639.44 L1637.88,639.7" stroke="#00FF00" stroke-width="12" fill="none" stroke-linecap="round" stroke-linejoin="round" stroke-dasharray="36 29.15 0 29.15"/>
<polygon points="322.58,959.4 346.22,1000.35 298.94,1000.35" fill="#00FF00"/>
<polygon points="585.64,789.7 609.28,830.65 562,830.65" fill="#00FF00"/>
<polygon points="848.7,673.5 872.34,714.45 825.06,714.45" fill="#00FF00"/>
<polygon points="1111.76,638 1135.4,678.95 1088.12,678.95" fill="#00FF00"/>
<polygon points="1374.82,596.6 1398.46,637.55 1351.18,637.55" fill="#00FF00"/>
<polygon points="1637.88,612.4 1661.52,653.35 1614.24,653.35" fill="#00FF00"/>
<path d="M322.58,761 L327.86,758.94 L333.14,756.88 L338.42,754.82 L343.7,752.76 L348.97,750.71 L354.25,748.65 L359.53,746.59 L364.81,744.53 L370.09,742.47 L375.37,740.42 L380.65,738.36 L385.93,736.3 L391.2,734.24 L396.48,732.19 L401.76,730.13 L407.04,728.08 L412.32,726.02 L417.6,723.97 L422.88,721.91 L428.16,719.86 L433.43,717.81 L438.71,715.75 L443.99,713.7 L449.27,711.65 L454.55,709.6 L459.83,707.55 L465.11,705.5 L470.39,703.45 L475.67,701.4 L480.94,699.36 L486.22,697.31 L491.5,695.27 L496.78,693.22 L502.06,691.18 L507.34,689.14 L512.62,687.09 L517.9,685.05 L523.17,683.01 L528.45,680.98 L533.73,678.94 L539.01,676.9 L544.29,674.87 L549.57,672.83 L554.85,670.8 L560.13,668.77 L565.4,666.74 L570.68,664.71 L575.96,662.68 L581.24,660.65 L586.52,658.63 L591.8,656.61 L597.08,654.58 L602.36,652.56 L607.63,650.55 L612.91,648.54 L618.19,646.53 L623.47,644.52 L628.75,642.52 L634.03,640.53 L639.31,638.54 L644.59,636.56 L649.87,634.59 L655.14,632.62 L660.42,630.66 L665.7,628.71 L670.98,626.77 L676.26,624.84 L681.54,622.92 L686.82,621.01 L692.1,619.11 L697.37,617.22 L702.65,615.35 L707.93,613.48 L713.21,611.63 L718.49,609.8 L723.77,607.97 L729.05,606.17 L734.33,604.38 L739.6,602.6 L744.88,600.84 L750.16,599.1 L755.44,597.37 L760.72,595.66 L766,593.97 L771.28,592.3 L776.56,590.65 L781.84,589.02 L787.11,587.4 L792.39,585.81 L797.67,584.24 L802.95,582.69 L808.23,581.17 L813.51,579.67 L818.79,578.19 L824.07,576.73 L829.34,575.3 L834.62,573.89 L839.9,572.51 L845.18,571.16 L850.46,569.83 L855.74,568.52 L861.02,567.25 L866.3,566 L871.57,564.77 L876.85,563.57 L882.13,562.39 L887.41,561.24 L892.69,560.11 L897.97,559.01 L903.25,557.92 L908.53,556.86 L913.81,555.82 L919.08,554.8 L924.36,553.8 L929.64,552.82 L934.92,551.86 L940.2,550.92 L945.48,549.99 L950.76,549.09 L956.04,548.2 L961.31,547.33 L966.59,546.48 L971.87,545.64 L977.15,544.82 L982.43,544.02 L987.71,543.22 L992.99,542.45 L998.27,541.68 L1003.54,540.94 L1008.82,540.2 L1014.1,539.47 L1019.38,538.76 L1024.66,538.06 L1029.94,537.37 L1035.22,536.69 L1040.5,536.02 L1045.78,535.36 L1051.05,534.71 L1056.33,534.07 L1061.61,533.44 L1066.89,532.81 L1072.17,532.19 L1077.45,531.58 L1082.73,530.97 L1088.01,530.37 L1093.28,529.78 L1098.56,529.19 L1103.84,528.6 L1109.12,528.02 L1114.4,527.44 L1119.68,526.87 L1124.96,526.3 L1130.24,525.73 L1135.51,525.17 L1140.79,524.61 L1146.07,524.05 L1151.35,523.5 L1156.63,522.95 L1161.91,522.4 L1167.19,521.86 L1172.47,521.32 L1177.74,520.79 L1183.02,520.26 L1188.3,519.74 L1193.58,519.22 L1198.86,518.71 L1204.14,518.2 L1209.42,517.69 L1214.7,517.19 L1219.98,516.7 L1225.25,516.21 L1230.53,515.72 L1235.81,515.24 L1241.09,514.77 L1246.37,514.3 L1251.65,513.84 L1256.93,513.38 L1262.21,512.93 L1267.48,512.49 L1272.76,512.05 L1278.04,511.62 L1283.32,511.19 L1288.6,510.77 L1293.88,510.35 L1299.16,509.95 L1304.44,509.54 L1309.71,509.15 L1314.99,508.76 L1320.27,508.38 L1325.55,508.01 L1330.83,507.64 L1336.11,507.28 L1341.39,506.93 L1346.67,506.58 L1351.95,506.24 L1357.22,505.91 L1362.5,505.59 L1367.78,505.27 L1373.06,504.97 L1378.34,504.67 L1383.62,504.38 L1388.9,504.09 L1394.18,503.82 L1399.45,503.55 L1404.73,503.29 L1410.01,503.04 L1415.29,502.8 L1420.57,502.56 L1425.85,502.34 L1431.13,502.12 L1436.41,501.91 L1441.68,501.71 L1446.96,501.52 L1452.24,501.34 L1457.52,501.16 L1462.8,501 L1468.08,500.84 L1473.36,500.7 L1478.64,500.56 L1483.92,500.43 L1489.19,500.31 L1494.47,500.2 L1499.75,500.1 L1505.03,500.01 L1510.31,499.93 L1515.59,499.86 L1520.87,499.8 L1526.15,499.75 L1531.42,499.71 L1536.7,499.67 L1541.98,499.65 L1547.26,499.64 L1552.54,499.64 L1557.82,499.65 L1563.1,499.66 L1568.38,499.69 L1573.65,499.73 L1578.93,499.78 L1584.21,499.84 L1589.49,499.91 L1594.77,499.99 L1600.05,500.09 L1605.33,500.19 L1610.61,500.3 L1615.89,500.43 L1621.16,500.56 L1626.44,500.71 L1631.72,500.87 L1637,501.04 L1642.28,501.22 L1647.56,501.41 L1652.84,501.61 L1658.12,501.82 L1663.39,502.05 L1668.67,502.28 L1673.95,502.52 L1679.23,502.78 L1684.51,503.04 L1689.79,503.31 L1695.07,503.59 L1700.35,503.88 L1705.62,504.18 L1710.9,504.49 L1716.18,504.8 L1721.46,505.13 L1726.74,505.46 L1732.02,505.79 L1737.3,506.14 L1742.58,506.49 L1747.85,506.85 L1753.13,507.22 L1758.41,507.59 L1763.69,507.97 L1768.97,508.35 L1774.25,508.74 L1779.53,509.14 L1784.81,509.54 L1790.09,509.94 L1795.36,510.35 L1800.64,510.77 L1805.92,511.18 L1811.2,511.61 L1816.48,512.03 L1821.76,512.46 L1827.04,512.9 L1832.32,513.34 L1837.59,513.77 L1842.87,514.22 L1848.15,514.66 L1853.43,515.11 L1858.71,515.56 L1863.99,516.01 L1869.27,516.46 L1874.55,516.92 L1879.82,517.37 L1885.1,517.83 L1890.38,518.29 L1895.66,518.74 L1900.94,519.2" stroke="#0000FF" stroke-width="12" fill="none" stroke-linecap="round" stroke-linejoin="round" stroke-dasharray="36 29.15 0 29.15"/>
<polygon points="322.58,788.3 298.94,747.35 346.22,747.35" fill="#0000FF"/>
<polygon points="585.64,685.7 562,644.75 609.28,644.75" fill="#0000FF"/>
<polygon points="848.7,586.5 825.06,545.55 872.34,545.55" fill="#0000FF"/>
<polygon points="1111.76,553.7 1088.12,512.75 1135.4,512.75" fill="#0000FF"/>
<polygon points="1374.82,528.9 1351.18,487.95 1398.46,487.95" fill="#0000FF"/>
<polygon points="1637.88,523.7 1614.24,482.75 1661.52,482.75" fill="#0000FF"/>
<polygon points="1900.94,546.5 1877.3,505.55 1924.58,505.55" fill="#0000FF"/>
<path d="M322.58,612 L327.86,610.06 L333.14,608.12 L338.42,606.19 L343.7,604.25 L348.97,602.31 L354.25,600.38 L359.53,598.45 L364.81,596.52 L370.09,594.59 L375.37,592.66 L380.65,590.74 L385.93,588.82 L391.2,586.9 L396.48,584.98 L401.76,583.07 L407.04,581.17 L412.32,579.27 L417.6,577.37 L422.88,575.48 L428.16,573.59 L433.43,571.71 L438.71,569.83 L443.99,567.96 L449.27,566.1 L454.55,564.24 L459.83,562.39 L465.11,560.54 L470.39,558.7 L475.67,556.88 L480.94,555.05 L486.22,553.24 L491.5,551.43 L496.78,549.64 L502.06,547.85 L507.34,546.07 L512.62,544.3 L517.9,542.54 L523.17,540.79 L528.45,539.05 L533.73,537.32 L539.01,535.6 L544.29,533.9 L549.57,532.2 L554.85,530.52 L560.13,528.84 L565.4,527.18 L570.68,525.53 L575.96,523.9 L581.24,522.28 L586.52,520.67 L591.8,519.07 L597.08,517.49 L602.36,515.92 L607.63,514.36 L612.91,512.82 L618.19,511.29 L623.47,509.77 L628.75,508.27 L634.03,506.78 L639.31,505.31 L644.59,503.84 L649.87,502.4 L655.14,500.96 L660.42,499.54 L665.7,498.13 L670.98,496.74 L676.26,495.36 L681.54,493.99 L686.82,492.64 L692.1,491.3 L697.37,489.97 L702.65,488.66 L707.93,487.36 L713.21,486.07 L718.49,484.8 L723.77,483.54 L729.05,482.3 L734.33,481.07 L739.6,479.85 L744.88,478.65 L750.16,477.46 L755.44,476.29 L760.72,475.13 L766,473.98 L771.28,472.84 L776.56,471.72 L781.84,470.62 L787.11,469.53 L792.39,468.45 L797.67,467.38 L802.95,466.33 L808.23,465.3 L813.51,464.28 L818.79,463.27 L824.07,462.27 L829.34,461.29 L834.62,460.33 L839.9,459.37 L845.18,458.43 L850.46,457.51 L855.74,456.6 L861.02,455.7 L866.3,454.82 L871.57,453.95 L876.85,453.1 L882.13,452.25 L887.41,451.43 L892.69,450.61 L897.97,449.81 L903.25,449.02 L908.53,448.24 L913.81,447.48 L919.08,446.73 L924.36,445.99 L929.64,445.27 L934.92,444.55 L940.2,443.85 L945.48,443.17 L950.76,442.49 L956.04,441.83 L961.31,441.17 L966.59,440.53 L971.87,439.9 L977.15,439.29 L982.43,438.68 L987.71,438.09 L992.99,437.51 L998.27,436.93 L1003.54,436.37 L1008.82,435.82 L1014.1,435.29 L1019.38,434.76 L1024.66,434.24 L1029.94,433.73 L1035.22,433.24 L1040.5,432.75 L1045.78,432.28 L1051.05,431.81 L1056.33,431.35 L1061.61,430.91 L1066.89,430.47 L1072.17,430.05 L1077.45,429.63 L1082.73,429.22 L1088.01,428.83 L1093.28,428.44 L1098.56,428.06 L1103.84,427.69 L1109.12,427.33 L1114.4,426.98 L1119.68,426.63 L1124.96,426.3 L1130.24,425.97 L1135.51,425.65 L1140.79,425.34 L1146.07,425.03 L1151.35,424.74 L1156.63,424.44 L1161.91,424.16 L1167.19,423.88 L1172.47,423.61 L1177.74,423.34 L1183.02,423.08 L1188.3,422.82 L1193.58,422.56 L1198.86,422.31 L1204.14,422.07 L1209.42,421.83 L1214.7,421.59 L1219.98,421.35 L1225.25,421.12 L1230.53,420.89 L1235.81,420.66 L1241.09,420.43 L1246.37,420.21 L1251.65,419.98 L1256.93,419.76 L1262.21,419.53 L1267.48,419.31 L1272.76,419.09 L1278.04,418.87 L1283.32,418.64 L1288.6,418.42 L1293.88,418.19 L1299.16,417.96 L1304.44,417.73 L1309.71,417.5 L1314.99,417.27 L1320.27,417.03 L1325.55,416.79 L1330.83,416.55 L1336.11,416.3 L1341.39,416.05 L1346.67,415.8 L1351.95,415.54 L1357.22,415.27 L1362.5,415 L1367.78,414.73 L1373.06,414.44 L1378.34,414.16 L1383.62,413.87 L1388.9,413.57 L1394.18,413.26 L1399.45,412.96 L1404.73,412.64 L1410.01,412.33 L1415.29,412.01 L1420.57,411.68 L1425.85,411.36 L1431.13,411.03 L1436.41,410.7 L1441.68,410.36 L1446.96,410.03 L1452.24,409.7 L1457.52,409.36 L1462.8,409.03 L1468.08,408.69 L1473.36,408.36 L1478.64,408.02 L1483.92,407.69 L1489.19,407.36 L1494.47,407.04 L1499.75,406.71 L1505.03,406.39 L1510.31,406.07 L1515.59,405.75 L1520.87,405.44 L1526.15,405.14 L1531.42,404.84 L1536.7,404.54 L1541.98,404.25 L1547.26,403.97 L1552.54,403.69 L1557.82,403.42 L1563.1,403.15 L1568.38,402.9 L1573.65,402.65 L1578.93,402.41 L1584.21,402.18 L1589.49,401.96 L1594.77,401.74 L1600.05,401.54 L1605.33,401.35 L1610.61,401.17 L1615.89,401 L1621.16,400.84 L1626.44,400.69 L1631.72,400.56 L1637,400.44 L1642.28,400.33 L1647.56,400.23 L1652.84,400.15 L1658.12,400.08 L1663.39,400.02 L1668.67,399.97 L1673.95,399.93 L1679.23,399.91 L1684.51,399.9 L1689.79,399.89 L1695.07,399.9 L1700.35,399.92 L1705.62,399.95 L1710.9,399.98 L1716.18,400.03 L1721.46,400.09 L1726.74,400.15 L1732.02,400.23 L1737.3,400.31 L1742.58,400.4 L1747.85,400.5 L1753.13,400.6 L1758.41,400.72 L1763.69,400.84 L1768.97,400.97 L1774.25,401.1 L1779.53,401.24 L1784.81,401.39 L1790.09,401.54 L1795.36,401.7 L1800.64,401.86 L1805.92,402.03 L1811.2,402.2 L1816.48,402.38 L1821.76,402.56 L1827.04,402.74 L1832.32,402.93 L1837.59,403.12 L1842.87,403.32 L1848.15,403.52 L1853.43,403.72 L1858.71,403.92 L1863.99,404.13 L1869.27,404.33 L1874.55,404.54 L1879.82,404.75 L1885.1,404.96 L1890.38,405.17 L1895.66,405.39 L1900.94,405.6" stroke="#00FFFF" stroke-width="12" fill="none" stroke-linecap="round" stroke-linejoin="round" stroke-dasharray="36 29.15 0 29.15"/>
<polygon points="322.58,587 347.58,612 322.58,637 297.58,612" fill="#00FFFF"/>
<polygon points="585.64,490.4 610.64,515.4 585.64,540.4 560.64,515.4" fill="#00FFFF"/>
<polygon points="848.7,427 873.7,452 848.7,477 823.7,452" fill="#00FFFF"/>
<polygon points="1111.76,398.5 1136.76,423.5 1111.76,448.5 1086.76,423.5" fill="#00FFFF"/>
<polygon points="1374.82,391.9 1399.82,416.9 1374.82,441.9 1349.82,416.9" fill="#00FFFF"/>
<polygon points="1637.88,370 1662.88,395 1637.88,420 1612.88,395" fill="#00FFFF"/>
<polygon points="1900.94,380.6 1925.94,405.6 1900.94,430.6 1875.94,405.6" fill="#00FFFF"/>
<path d="M322.58,469.5 L328.74,468.37 L334.9,467.24 L341.06,466.11 L347.21,464.98 L353.37,463.86 L359.53,462.73 L365.69,461.59 L371.85,460.46 L378.01,459.33 L384.17,458.2 L390.32,457.06 L396.48,455.92 L402.64,454.79 L408.8,453.65 L414.96,452.51 L421.12,451.36 L427.28,450.22 L433.43,449.07 L439.59,447.92 L445.75,446.77 L451.91,445.61 L458.07,444.46 L464.23,443.3 L470.39,442.14 L476.54,440.97 L482.7,439.8 L488.86,438.63 L495.02,437.46 L501.18,436.28 L507.34,435.1 L513.5,433.91 L519.66,432.72 L525.81,431.53 L531.97,430.33 L538.13,429.13 L544.29,427.93 L550.45,426.72 L556.61,425.5 L562.77,424.29 L568.92,423.06 L575.08,421.83 L581.24,420.6 L587.4,419.36 L593.56,418.12 L599.72,416.87 L605.88,415.62 L612.03,414.37 L618.19,413.11 L624.35,411.85 L630.51,410.59 L636.67,409.34 L642.83,408.08 L648.99,406.82 L655.14,405.57 L661.3,404.32 L667.46,403.07 L673.62,401.83 L679.78,400.59 L685.94,399.36 L692.1,398.13 L698.25,396.92 L704.41,395.71 L710.57,394.51 L716.73,393.31 L722.89,392.13 L729.05,390.96 L735.21,389.8 L741.36,388.66 L747.52,387.52 L753.68,386.4 L759.84,385.3 L766,384.21 L772.16,383.14 L778.32,382.08 L784.47,381.04 L790.63,380.02 L796.79,379.02 L802.95,378.03 L809.11,377.07 L815.27,376.13 L821.43,375.21 L827.58,374.31 L833.74,373.44 L839.9,372.59 L846.06,371.76 L852.22,370.96 L858.38,370.19 L864.54,369.44 L870.69,368.71 L876.85,368.01 L883.01,367.33 L889.17,366.67 L895.33,366.04 L901.49,365.42 L907.65,364.83 L913.81,364.26 L919.96,363.7 L926.12,363.16 L932.28,362.65 L938.44,362.14 L944.6,361.66 L950.76,361.19 L956.92,360.74 L963.07,360.3 L969.23,359.88 L975.39,359.47 L981.55,359.07 L987.71,358.69 L993.87,358.31 L1000.03,357.95 L1006.18,357.6 L1012.34,357.26 L1018.5,356.93 L1024.66,356.6 L1030.82,356.29 L1036.98,355.98 L1043.14,355.68 L1049.29,355.39 L1055.45,355.1 L1061.61,354.82 L1067.77,354.54 L1073.93,354.26 L1080.09,353.99 L1086.25,353.72 L1092.4,353.45 L1098.56,353.19 L1104.72,352.92 L1110.88,352.65 L1117.04,352.39 L1123.2,352.12 L1129.36,351.86 L1135.51,351.59 L1141.67,351.32 L1147.83,351.06 L1153.99,350.79 L1160.15,350.52 L1166.31,350.26 L1172.47,349.99 L1178.62,349.73 L1184.78,349.47 L1190.94,349.21 L1197.1,348.95 L1203.26,348.69 L1209.42,348.44 L1215.58,348.18 L1221.73,347.93 L1227.89,347.69 L1234.05,347.44 L1240.21,347.2 L1246.37,346.96 L1252.53,346.72 L1258.69,346.48 L1264.85,346.25 L1271,346.03 L1277.16,345.8 L1283.32,345.58 L1289.48,345.37 L1295.64,345.15 L1301.8,344.95 L1307.96,344.74 L1314.11,344.55 L1320.27,344.35 L1326.43,344.17 L1332.59,343.98 L1338.75,343.81 L1344.91,343.63 L1351.07,343.47 L1357.22,343.31 L1363.38,343.15 L1369.54,343.01 L1375.7,342.86 L1381.86,342.73 L1388.02,342.6 L1394.18,342.48 L1400.33,342.36 L1406.49,342.25 L1412.65,342.15 L1418.81,342.05 L1424.97,341.95 L1431.13,341.87 L1437.29,341.78 L1443.44,341.71 L1449.6,341.63 L1455.76,341.57 L1461.92,341.5 L1468.08,341.45 L1474.24,341.39 L1480.4,341.34 L1486.55,341.3 L1492.71,341.26 L1498.87,341.22 L1505.03,341.19 L1511.19,341.16 L1517.35,341.13 L1523.51,341.11 L1529.66,341.09 L1535.82,341.08 L1541.98,341.06 L1548.14,341.06 L1554.3,341.05 L1560.46,341.04 L1566.62,341.04 L1572.77,341.04 L1578.93,341.05 L1585.09,341.05 L1591.25,341.06 L1597.41,341.07 L1603.57,341.08 L1609.73,341.09 L1615.89,341.11 L1622.04,341.12 L1628.2,341.14 L1634.36,341.16 L1640.52,341.17 L1646.68,341.19 L1652.84,341.22 L1659,341.24 L1665.15,341.26 L1671.31,341.29 L1677.47,341.32 L1683.63,341.35 L1689.79,341.38 L1695.95,341.42 L1702.11,341.46 L1708.26,341.5 L1714.42,341.55 L1720.58,341.6 L1726.74,341.66 L1732.9,341.72 L1739.06,341.78 L1745.22,341.85 L1751.37,341.93 L1757.53,342.01 L1763.69,342.09 L1769.85,342.19 L1776.01,342.29 L1782.17,342.39 L1788.33,342.5 L1794.48,342.62 L1800.64,342.75 L1806.8,342.88 L1812.96,343.03 L1819.12,343.18 L1825.28,343.34 L1831.44,343.5 L1837.59,343.68 L1843.75,343.86 L1849.91,344.06 L1856.07,344.26 L1862.23,344.48 L1868.39,344.7 L1874.55,344.94 L1880.7,345.18 L1886.86,345.44 L1893.02,345.71 L1899.18,345.98 L1905.34,346.28 L1911.5,346.58 L1917.66,346.89 L1923.81,347.21 L1929.97,347.55 L1936.13,347.9 L1942.29,348.25 L1948.45,348.62 L1954.61,348.99 L1960.77,349.38 L1966.92,349.77 L1973.08,350.17 L1979.24,350.58 L1985.4,351 L1991.56,351.43 L1997.72,351.86 L2003.88,352.3 L2010.04,352.75 L2016.19,353.21 L2022.35,353.67 L2028.51,354.14 L2034.67,354.62 L2040.83,355.1 L2046.99,355.58 L2053.15,356.07 L2059.3,356.57 L2065.46,357.07 L2071.62,357.58 L2077.78,358.09 L2083.94,358.6 L2090.1,359.12 L2096.26,359.64 L2102.41,360.16 L2108.57,360.69 L2114.73,361.22 L2120.89,361.75 L2127.05,362.28 L2133.21,362.81 L2139.37,363.35 L2145.52,363.89 L2151.68,364.42 L2157.84,364.96 L2164,365.5" stroke="#FF00FF" stroke-width="12" fill="none" stroke-linecap="round" stroke-linejoin="round" stroke-dasharray="36 29.15 0 29.15"/>
<polygon points="295.28,469.5 336.23,445.86 336.23,493.14" fill="#FF00FF"/>
<polygon points="558.34,421.3 599.29,397.66 599.29,444.94" fill="#FF00FF"/>
<polygon points="821.4,363.6 862.35,339.96 862.35,387.24" fill="#FF00FF"/>
<polygon points="1084.46,352.8 1125.41,329.16 1125.41,376.44" fill="#FF00FF"/>
<polygon points="1347.52,340.9 1388.47,317.26 1388.47,364.54" fill="#FF00FF"/>
<polygon points="1610.58,340.9 1651.53,317.26 1651.53,364.54" fill="#FF00FF"/>
<polygon points="1873.64,342.5 1914.59,318.86 1914.59,366.14" fill="#FF00FF"/>
<polygon points="2136.7,365.5 2177.65,341.86 2177.65,389.14" fill="#FF00FF"/>
<path d="M585.64,329.5 L590.92,328.7 L596.2,327.89 L601.48,327.09 L606.76,326.28 L612.03,325.48 L617.31,324.68 L622.59,323.88 L627.87,323.09 L633.15,322.29 L638.43,321.5 L643.71,320.71 L648.99,319.92 L654.26,319.14 L659.54,318.35 L664.82,317.58 L670.1,316.8 L675.38,316.04 L680.66,315.27 L685.94,314.51 L691.22,313.76 L696.49,313.01 L701.77,312.26 L707.05,311.53 L712.33,310.79 L717.61,310.07 L722.89,309.35 L728.17,308.64 L733.45,307.93 L738.73,307.23 L744,306.54 L749.28,305.86 L754.56,305.19 L759.84,304.52 L765.12,303.87 L770.4,303.22 L775.68,302.58 L780.96,301.95 L786.23,301.33 L791.51,300.72 L796.79,300.12 L802.07,299.53 L807.35,298.96 L812.63,298.39 L817.91,297.83 L823.19,297.29 L828.46,296.76 L833.74,296.24 L839.02,295.73 L844.3,295.24 L849.58,294.75 L854.86,294.29 L860.14,293.83 L865.42,293.39 L870.69,292.95 L875.97,292.53 L881.25,292.13 L886.53,291.73 L891.81,291.35 L897.09,290.97 L902.37,290.61 L907.65,290.26 L912.93,289.91 L918.2,289.58 L923.48,289.25 L928.76,288.94 L934.04,288.63 L939.32,288.34 L944.6,288.05 L949.88,287.77 L955.16,287.5 L960.43,287.23 L965.71,286.97 L970.99,286.72 L976.27,286.48 L981.55,286.24 L986.83,286.01 L992.11,285.79 L997.39,285.57 L1002.66,285.35 L1007.94,285.15 L1013.22,284.94 L1018.5,284.74 L1023.78,284.55 L1029.06,284.36 L1034.34,284.17 L1039.62,283.99 L1044.9,283.81 L1050.17,283.63 L1055.45,283.45 L1060.73,283.28 L1066.01,283.11 L1071.29,282.94 L1076.57,282.78 L1081.85,282.61 L1087.13,282.45 L1092.4,282.28 L1097.68,282.12 L1102.96,281.96 L1108.24,281.79 L1113.52,281.63 L1118.8,281.46 L1124.08,281.3 L1129.36,281.14 L1134.63,280.97 L1139.91,280.81 L1145.19,280.65 L1150.47,280.48 L1155.75,280.32 L1161.03,280.16 L1166.31,280 L1171.59,279.84 L1176.87,279.69 L1182.14,279.53 L1187.42,279.38 L1192.7,279.23 L1197.98,279.08 L1203.26,278.94 L1208.54,278.8 L1213.82,278.66 L1219.1,278.52 L1224.37,278.39 L1229.65,278.26 L1234.93,278.14 L1240.21,278.02 L1245.49,277.9 L1250.77,277.79 L1256.05,277.68 L1261.33,277.58 L1266.6,277.48 L1271.88,277.39 L1277.16,277.3 L1282.44,277.22 L1287.72,277.15 L1293,277.08 L1298.28,277.02 L1303.56,276.96 L1308.84,276.91 L1314.11,276.87 L1319.39,276.83 L1324.67,276.8 L1329.95,276.78 L1335.23,276.76 L1340.51,276.76 L1345.79,276.76 L1351.07,276.77 L1356.34,276.79 L1361.62,276.81 L1366.9,276.85 L1372.18,276.89 L1377.46,276.94 L1382.74,277.01 L1388.02,277.08 L1393.3,277.16 L1398.57,277.25 L1403.85,277.35 L1409.13,277.45 L1414.41,277.57 L1419.69,277.69 L1424.97,277.82 L1430.25,277.96 L1435.53,278.11 L1440.8,278.27 L1446.08,278.43 L1451.36,278.61 L1456.64,278.79 L1461.92,278.97 L1467.2,279.17 L1472.48,279.37 L1477.76,279.58 L1483.04,279.8 L1488.31,280.03 L1493.59,280.26 L1498.87,280.5 L1504.15,280.74 L1509.43,280.99 L1514.71,281.25 L1519.99,281.52 L1525.27,281.79 L1530.54,282.07 L1535.82,282.35 L1541.1,282.64 L1546.38,282.94 L1551.66,283.24 L1556.94,283.55 L1562.22,283.87 L1567.5,284.19 L1572.77,284.51 L1578.05,284.85 L1583.33,285.18 L1588.61,285.52 L1593.89,285.87 L1599.17,286.22 L1604.45,286.58 L1609.73,286.94 L1615.01,287.31 L1620.28,287.68 L1625.56,288.06 L1630.84,288.44 L1636.12,288.82 L1641.4,289.21 L1646.68,289.6 L1651.96,290 L1657.24,290.4 L1662.51,290.81 L1667.79,291.21 L1673.07,291.62 L1678.35,292.04 L1683.63,292.46 L1688.91,292.88 L1694.19,293.3 L1699.47,293.73 L1704.74,294.15 L1710.02,294.58 L1715.3,295.02 L1720.58,295.45 L1725.86,295.88 L1731.14,296.32 L1736.42,296.76 L1741.7,297.2 L1746.98,297.64 L1752.25,298.08 L1757.53,298.53 L1762.81,298.97 L1768.09,299.41 L1773.37,299.86 L1778.65,300.3 L1783.93,300.74 L1789.21,301.19 L1794.48,301.63 L1799.76,302.07 L1805.04,302.51 L1810.32,302.96 L1815.6,303.4 L1820.88,303.83 L1826.16,304.27 L1831.44,304.71 L1836.71,305.14 L1841.99,305.58 L1847.27,306.01 L1852.55,306.43 L1857.83,306.86 L1863.11,307.28 L1868.39,307.71 L1873.67,308.12 L1878.95,308.54 L1884.22,308.95 L1889.5,309.36 L1894.78,309.76 L1900.06,310.17 L1905.34,310.56 L1910.62,310.96 L1915.9,311.35 L1921.18,311.74 L1926.45,312.12 L1931.73,312.5 L1937.01,312.88 L1942.29,313.25 L1947.57,313.62 L1952.85,313.99 L1958.13,314.35 L1963.41,314.71 L1968.68,315.07 L1973.96,315.43 L1979.24,315.78 L1984.52,316.13 L1989.8,316.48 L1995.08,316.82 L2000.36,317.17 L2005.64,317.51 L2010.91,317.85 L2016.19,318.18 L2021.47,318.52 L2026.75,318.85 L2032.03,319.18 L2037.31,319.5 L2042.59,319.83 L2047.87,320.15 L2053.15,320.48 L2058.42,320.8 L2063.7,321.12 L2068.98,321.44 L2074.26,321.75 L2079.54,322.07 L2084.82,322.38 L2090.1,322.7 L2095.38,323.01 L2100.65,323.32 L2105.93,323.63 L2111.21,323.94 L2116.49,324.25 L2121.77,324.55 L2127.05,324.86 L2132.33,325.17 L2137.61,325.47 L2142.88,325.78 L2148.16,326.08 L2153.44,326.39 L2158.72,326.69 L2164,327" stroke="#808000" stroke-width="12" fill="none" stroke-linecap="round" stroke-linejoin="round" stroke-dasharray="36 29.15 0 29.15"/>
<polygon points="585.64,307.1 605.04,318.3 605.04,340.7 585.64,351.9 566.24,340.7 566.24,318.3" fill="#808000"/>
<polygon points="848.7,267 868.1,278.2 868.1,300.6 848.7,311.8 829.3,300.6 829.3,278.2" fill="#808000"/>
<polygon points="1111.76,259.5 1131.16,270.7 1131.16,293.1 1111.76,304.3 1092.36,293.1 1092.36,270.7" fill="#808000"/>
<polygon points="1374.82,250.7 1394.22,261.9 1394.22,284.3 1374.82,295.5 1355.42,284.3 1355.42,261.9" fill="#808000"/>
<polygon points="1637.88,264.8 1657.28,276 1657.28,298.4 1637.88,309.6 1618.48,298.4 1618.48,276" fill="#808000"/>
<polygon points="1900.94,289.4 1920.34,300.6 1920.34,323 1900.94,334.2 1881.54,323 1881.54,300.6" fill="#808000"/>
<polygon points="2164,304.6 2183.4,315.8 2183.4,338.2 2164,349.4 2144.6,338.2 2144.6,315.8" fill="#808000"/>
<path d="M585.64,266 L590.92,265.34 L596.2,264.67 L601.48,264.01 L606.76,263.35 L612.03,262.68 L617.31,262.03 L622.59,261.37 L627.87,260.71 L633.15,260.06 L638.43,259.41 L643.71,258.76 L648.99,258.11 L654.26,257.47 L659.54,256.83 L664.82,256.2 L670.1,255.57 L675.38,254.94 L680.66,254.32 L685.94,253.71 L691.22,253.1 L696.49,252.49 L701.77,251.89 L707.05,251.3 L712.33,250.72 L717.61,250.14 L722.89,249.57 L728.17,249 L733.45,248.45 L738.73,247.9 L744,247.36 L749.28,246.83 L754.56,246.31 L759.84,245.79 L765.12,245.29 L770.4,244.8 L775.68,244.31 L780.96,243.84 L786.23,243.38 L791.51,242.92 L796.79,242.48 L802.07,242.05 L807.35,241.64 L812.63,241.23 L817.91,240.84 L823.19,240.45 L828.46,240.09 L833.74,239.73 L839.02,239.39 L844.3,239.06 L849.58,238.75 L854.86,238.45 L860.14,238.16 L865.42,237.89 L870.69,237.63 L875.97,237.39 L881.25,237.15 L886.53,236.93 L891.81,236.72 L897.09,236.53 L902.37,236.34 L907.65,236.17 L912.93,236.01 L918.2,235.85 L923.48,235.71 L928.76,235.58 L934.04,235.46 L939.32,235.35 L944.6,235.24 L949.88,235.15 L955.16,235.06 L960.43,234.99 L965.71,234.92 L970.99,234.85 L976.27,234.8 L981.55,234.75 L986.83,234.71 L992.11,234.68 L997.39,234.65 L1002.66,234.63 L1007.94,234.61 L1013.22,234.6 L1018.5,234.6 L1023.78,234.6 L1029.06,234.6 L1034.34,234.61 L1039.62,234.62 L1044.9,234.64 L1050.17,234.65 L1055.45,234.68 L1060.73,234.7 L1066.01,234.73 L1071.29,234.76 L1076.57,234.79 L1081.85,234.82 L1087.13,234.85 L1092.4,234.89 L1097.68,234.92 L1102.96,234.96 L1108.24,234.99 L1113.52,235.03 L1118.8,235.06 L1124.08,235.1 L1129.36,235.13 L1134.63,235.17 L1139.91,235.2 L1145.19,235.24 L1150.47,235.27 L1155.75,235.31 L1161.03,235.35 L1166.31,235.38 L1171.59,235.42 L1176.87,235.46 L1182.14,235.51 L1187.42,235.55 L1192.7,235.59 L1197.98,235.64 L1203.26,235.69 L1208.54,235.74 L1213.82,235.8 L1219.1,235.85 L1224.37,235.91 L1229.65,235.97 L1234.93,236.04 L1240.21,236.11 L1245.49,236.18 L1250.77,236.25 L1256.05,236.33 L1261.33,236.41 L1266.6,236.5 L1271.88,236.59 L1277.16,236.68 L1282.44,236.78 L1287.72,236.88 L1293,236.99 L1298.28,237.1 L1303.56,237.22 L1308.84,237.34 L1314.11,237.47 L1319.39,237.6 L1324.67,237.74 L1329.95,237.89 L1335.23,238.04 L1340.51,238.19 L1345.79,238.36 L1351.07,238.52 L1356.34,238.7 L1361.62,238.88 L1366.9,239.07 L1372.18,239.27 L1377.46,239.47 L1382.74,239.68 L1388.02,239.9 L1393.3,240.12 L1398.57,240.35 L1403.85,240.59 L1409.13,240.83 L1414.41,241.08 L1419.69,241.34 L1424.97,241.6 L1430.25,241.87 L1435.53,242.15 L1440.8,242.43 L1446.08,242.72 L1451.36,243.02 L1456.64,243.32 L1461.92,243.62 L1467.2,243.94 L1472.48,244.26 L1477.76,244.58 L1483.04,244.91 L1488.31,245.24 L1493.59,245.58 L1498.87,245.93 L1504.15,246.28 L1509.43,246.64 L1514.71,247 L1519.99,247.36 L1525.27,247.74 L1530.54,248.11 L1535.82,248.49 L1541.1,248.88 L1546.38,249.27 L1551.66,249.66 L1556.94,250.06 L1562.22,250.46 L1567.5,250.87 L1572.77,251.28 L1578.05,251.7 L1583.33,252.12 L1588.61,252.54 L1593.89,252.97 L1599.17,253.4 L1604.45,253.83 L1609.73,254.27 L1615.01,254.71 L1620.28,255.16 L1625.56,255.61 L1630.84,256.06 L1636.12,256.51 L1641.4,256.97 L1646.68,257.43 L1651.96,257.9 L1657.24,258.36 L1662.51,258.83 L1667.79,259.31 L1673.07,259.78 L1678.35,260.26 L1683.63,260.74 L1688.91,261.22 L1694.19,261.7 L1699.47,262.19 L1704.74,262.67 L1710.02,263.16 L1715.3,263.65 L1720.58,264.15 L1725.86,264.64 L1731.14,265.14 L1736.42,265.63 L1741.7,266.13 L1746.98,266.63 L1752.25,267.13 L1757.53,267.63 L1762.81,268.13 L1768.09,268.63 L1773.37,269.14 L1778.65,269.64 L1783.93,270.15 L1789.21,270.65 L1794.48,271.15 L1799.76,271.66 L1805.04,272.16 L1810.32,272.67 L1815.6,273.17 L1820.88,273.68 L1826.16,274.18 L1831.44,274.68 L1836.71,275.19 L1841.99,275.69 L1847.27,276.19 L1852.55,276.69 L1857.83,277.19 L1863.11,277.69 L1868.39,278.18 L1873.67,278.68 L1878.95,279.17 L1884.22,279.67 L1889.5,280.16 L1894.78,280.65 L1900.06,281.14 L1905.34,281.62 L1910.62,282.11 L1915.9,282.59 L1921.18,283.07 L1926.45,283.55 L1931.73,284.02 L1937.01,284.5 L1942.29,284.97 L1947.57,285.45 L1952.85,285.92 L1958.13,286.39 L1963.41,286.85 L1968.68,287.32 L1973.96,287.78 L1979.24,288.25 L1984.52,288.71 L1989.8,289.17 L1995.08,289.63 L2000.36,290.09 L2005.64,290.55 L2010.91,291 L2016.19,291.46 L2021.47,291.91 L2026.75,292.36 L2032.03,292.81 L2037.31,293.27 L2042.59,293.72 L2047.87,294.16 L2053.15,294.61 L2058.42,295.06 L2063.7,295.51 L2068.98,295.95 L2074.26,296.4 L2079.54,296.84 L2084.82,297.29 L2090.1,297.73 L2095.38,298.17 L2100.65,298.62 L2105.93,299.06 L2111.21,299.5 L2116.49,299.94 L2121.77,300.38 L2127.05,300.82 L2132.33,301.26 L2137.61,301.7 L2142.88,302.14 L2148.16,302.58 L2153.44,303.02 L2158.72,303.46 L2164,303.9" stroke="#960000" stroke-width="12" fill="none" stroke-linecap="round" stroke-linejoin="round" stroke-dasharray="36 29.15 0 29.15"/>
<polygon points="585.64,242.6 591.69,257.67 607.89,258.77 595.44,269.18 599.39,284.93 585.64,276.3 571.89,284.93 575.84,269.18 563.39,258.77 579.59,257.67" fill="#960000"/>
<polygon points="848.7,209.5 854.75,224.57 870.95,225.67 858.5,236.08 862.45,251.83 848.7,243.2 834.95,251.83 838.9,236.08 826.45,225.67 842.65,224.57" fill="#960000"/>
<polygon points="1111.76,211.8 1117.81,226.87 1134.01,227.97 1121.56,238.38 1125.51,254.13 1111.76,245.5 1098.01,254.13 1101.96,238.38 1089.51,227.97 1105.71,226.87" fill="#960000"/>
<polygon points="1374.82,213 1380.87,228.07 1397.07,229.17 1384.62,239.58 1388.57,255.33 1374.82,246.7 1361.07,255.33 1365.02,239.58 1352.57,229.17 1368.77,228.07" fill="#960000"/>
<polygon points="1637.88,232 1643.93,247.07 1660.13,248.17 1647.68,258.58 1651.63,274.33 1637.88,265.7 1624.13,274.33 1628.08,258.58 1615.63,248.17 1631.83,247.07" fill="#960000"/>
<polygon points="1900.94,258.6 1906.99,273.67 1923.19,274.77 1910.74,285.18 1914.69,300.93 1900.94,292.3 1887.19,300.93 1891.14,285.18 1878.69,274.77 1894.89,273.67" fill="#960000"/>
<polygon points="2164,280.5 2170.05,295.57 2186.25,296.67 2173.8,307.08 2177.75,322.83 2164,314.2 2150.25,322.83 2154.2,307.08 2141.75,296.67 2157.95,295.57" fill="#960000"/>
<path d="M585.64,211.2 L590.92,211.01 L596.2,210.83 L601.48,210.64 L606.76,210.46 L612.03,210.27 L617.31,210.09 L622.59,209.9 L627.87,209.72 L633.15,209.54 L638.43,209.36 L643.71,209.18 L648.99,209.01 L654.26,208.83 L659.54,208.66 L664.82,208.49 L670.1,208.32 L675.38,208.16 L680.66,207.99 L685.94,207.84 L691.22,207.68 L696.49,207.53 L701.77,207.38 L707.05,207.23 L712.33,207.09 L717.61,206.95 L722.89,206.81 L728.17,206.68 L733.45,206.55 L738.73,206.43 L744,206.31 L749.28,206.2 L754.56,206.09 L759.84,205.99 L765.12,205.89 L770.4,205.8 L775.68,205.71 L780.96,205.63 L786.23,205.56 L791.51,205.49 L796.79,205.42 L802.07,205.37 L807.35,205.32 L812.63,205.27 L817.91,205.24 L823.19,205.21 L828.46,205.18 L833.74,205.17 L839.02,205.16 L844.3,205.16 L849.58,205.17 L854.86,205.18 L860.14,205.21 L865.42,205.24 L870.69,205.27 L875.97,205.32 L881.25,205.37 L886.53,205.43 L891.81,205.49 L897.09,205.56 L902.37,205.64 L907.65,205.72 L912.93,205.8 L918.2,205.89 L923.48,205.99 L928.76,206.09 L934.04,206.19 L939.32,206.3 L944.6,206.42 L949.88,206.53 L955.16,206.65 L960.43,206.78 L965.71,206.9 L970.99,207.03 L976.27,207.16 L981.55,207.29 L986.83,207.43 L992.11,207.57 L997.39,207.7 L1002.66,207.84 L1007.94,207.98 L1013.22,208.13 L1018.5,208.27 L1023.78,208.41 L1029.06,208.55 L1034.34,208.7 L1039.62,208.84 L1044.9,208.98 L1050.17,209.12 L1055.45,209.26 L1060.73,209.4 L1066.01,209.53 L1071.29,209.67 L1076.57,209.8 L1081.85,209.93 L1087.13,210.06 L1092.4,210.18 L1097.68,210.31 L1102.96,210.43 L1108.24,210.54 L1113.52,210.65 L1118.8,210.76 L1124.08,210.87 L1129.36,210.97 L1134.63,211.07 L1139.91,211.16 L1145.19,211.25 L1150.47,211.34 L1155.75,211.43 L1161.03,211.51 L1166.31,211.59 L1171.59,211.67 L1176.87,211.74 L1182.14,211.82 L1187.42,211.89 L1192.7,211.96 L1197.98,212.03 L1203.26,212.09 L1208.54,212.16 L1213.82,212.22 L1219.1,212.28 L1224.37,212.34 L1229.65,212.4 L1234.93,212.46 L1240.21,212.52 L1245.49,212.58 L1250.77,212.64 L1256.05,212.7 L1261.33,212.76 L1266.6,212.82 L1271.88,212.87 L1277.16,212.93 L1282.44,212.99 L1287.72,213.05 L1293,213.11 L1298.28,213.17 L1303.56,213.24 L1308.84,213.3 L1314.11,213.36 L1319.39,213.43 L1324.67,213.5 L1329.95,213.57 L1335.23,213.64 L1340.51,213.71 L1345.79,213.79 L1351.07,213.87 L1356.34,213.95 L1361.62,214.03 L1366.9,214.12 L1372.18,214.2 L1377.46,214.3 L1382.74,214.39 L1388.02,214.49 L1393.3,214.59 L1398.57,214.69 L1403.85,214.8 L1409.13,214.91 L1414.41,215.02 L1419.69,215.14 L1424.97,215.26 L1430.25,215.38 L1435.53,215.51 L1440.8,215.64 L1446.08,215.77 L1451.36,215.91 L1456.64,216.05 L1461.92,216.19 L1467.2,216.34 L1472.48,216.49 L1477.76,216.65 L1483.04,216.81 L1488.31,216.97 L1493.59,217.13 L1498.87,217.3 L1504.15,217.48 L1509.43,217.65 L1514.71,217.84 L1519.99,218.02 L1525.27,218.21 L1530.54,218.4 L1535.82,218.6 L1541.1,218.8 L1546.38,219.01 L1551.66,219.22 L1556.94,219.43 L1562.22,219.65 L1567.5,219.87 L1572.77,220.1 L1578.05,220.33 L1583.33,220.56 L1588.61,220.8 L1593.89,221.04 L1599.17,221.29 L1604.45,221.54 L1609.73,221.8 L1615.01,222.06 L1620.28,222.33 L1625.56,222.6 L1630.84,222.88 L1636.12,223.16 L1641.4,223.44 L1646.68,223.73 L1651.96,224.02 L1657.24,224.32 L1662.51,224.62 L1667.79,224.93 L1673.07,225.24 L1678.35,225.56 L1683.63,225.88 L1688.91,226.2 L1694.19,226.53 L1699.47,226.86 L1704.74,227.19 L1710.02,227.53 L1715.3,227.87 L1720.58,228.21 L1725.86,228.56 L1731.14,228.91 L1736.42,229.26 L1741.7,229.62 L1746.98,229.97 L1752.25,230.33 L1757.53,230.7 L1762.81,231.06 L1768.09,231.43 L1773.37,231.8 L1778.65,232.17 L1783.93,232.55 L1789.21,232.92 L1794.48,233.3 L1799.76,233.68 L1805.04,234.06 L1810.32,234.44 L1815.6,234.83 L1820.88,235.21 L1826.16,235.6 L1831.44,235.99 L1836.71,236.37 L1841.99,236.76 L1847.27,237.15 L1852.55,237.54 L1857.83,237.93 L1863.11,238.32 L1868.39,238.72 L1873.67,239.11 L1878.95,239.5 L1884.22,239.89 L1889.5,240.28 L1894.78,240.68 L1900.06,241.07 L1905.34,241.46 L1910.62,241.85 L1915.9,242.24 L1921.18,242.63 L1926.45,243.02 L1931.73,243.41 L1937.01,243.8 L1942.29,244.19 L1947.57,244.58 L1952.85,244.96 L1958.13,245.35 L1963.41,245.74 L1968.68,246.12 L1973.96,246.51 L1979.24,246.9 L1984.52,247.28 L1989.8,247.67 L1995.08,248.06 L2000.36,248.44 L2005.64,248.83 L2010.91,249.21 L2016.19,249.59 L2021.47,249.98 L2026.75,250.36 L2032.03,250.75 L2037.31,251.13 L2042.59,251.51 L2047.87,251.9 L2053.15,252.28 L2058.42,252.66 L2063.7,253.05 L2068.98,253.43 L2074.26,253.81 L2079.54,254.19 L2084.82,254.58 L2090.1,254.96 L2095.38,255.34 L2100.65,255.72 L2105.93,256.1 L2111.21,256.49 L2116.49,256.87 L2121.77,257.25 L2127.05,257.63 L2132.33,258.01 L2137.61,258.39 L2142.88,258.77 L2148.16,259.16 L2153.44,259.54 L2158.72,259.92 L2164,260.3" stroke="#8F00FF" stroke-width="12" fill="none" stroke-linecap="round" stroke-linejoin="round" stroke-dasharray="36 29.15 0 29.15"/>
<polygon points="585.64,188 607.7,204.03 599.28,229.97 572,229.97 563.58,204.03" fill="#8F00FF"/>
<polygon points="848.7,178.7 870.76,194.73 862.34,220.67 835.06,220.67 826.64,194.73" fill="#8F00FF"/>
<polygon points="1111.76,189 1133.82,205.03 1125.4,230.97 1098.12,230.97 1089.7,205.03" fill="#8F00FF"/>
<polygon points="1374.82,189.8 1396.88,205.83 1388.46,231.77 1361.18,231.77 1352.76,205.83" fill="#8F00FF"/>
<polygon points="1637.88,198.1 1659.94,214.13 1651.52,240.07 1624.24,240.07 1615.82,214.13" fill="#8F00FF"/>
<polygon points="1900.94,218.1 1923,234.13 1914.58,260.07 1887.3,260.07 1878.88,234.13" fill="#8F00FF"/>
<polygon points="2164,237.1 2186.06,253.13 2177.64,279.07 2150.36,279.07 2141.94,253.13" fill="#8F00FF"/>
<path d="M1076.7,1053.6H1263" stroke="#000000" stroke-width="12" stroke-linecap="round" fill="none"/>
<rect x="1151.75" y="1035.5" width="36.2" height="36.2" fill="#000000"/>
<text x="1282.9" y="1081.2" font-size="83.4">450 r/min</text>
<path d="M1690.4,1053.6H1876.7" stroke="#FF0000" stroke-width="12" stroke-linecap="round" fill="none"/>
<circle cx="1783.55" cy="1053.6" r="20.1" fill="#FF0000"/>
<text x="1897.1" y="1081.2" font-size="83.4">750 r/min</text>
<path d="M1076.7,1157.8H1263" stroke="#00FF00" stroke-width="12" stroke-linecap="round" fill="none"/>
<polygon points="1169.85,1130.5 1193.49,1171.45 1146.21,1171.45" fill="#00FF00"/>
<text x="1282.9" y="1185.4" font-size="83.4">1050 r/min</text>
<path d="M1690.4,1157.8H1876.7" stroke="#0000FF" stroke-width="12" stroke-linecap="round" fill="none"/>
<polygon points="1783.55,1185.1 1759.91,1144.15 1807.19,1144.15" fill="#0000FF"/>
<text x="1897.1" y="1185.4" font-size="83.4">1350 r/min</text>
<path d="M1076.7,1262H1263" stroke="#00FFFF" stroke-width="12" stroke-linecap="round" fill="none"/>
<polygon points="1169.85,1237 1194.85,1262 1169.85,1287 1144.85,1262" fill="#00FFFF"/>
<text x="1282.9" y="1289.6" font-size="83.4">1650 r/min</text>
<path d="M1690.4,1262H1876.7" stroke="#FF00FF" stroke-width="12" stroke-linecap="round" fill="none"/>
<polygon points="1756.25,1262 1797.2,1238.36 1797.2,1285.64" fill="#FF00FF"/>
<text x="1897.1" y="1289.6" font-size="83.4">1950 r/min</text>
<path d="M1076.7,1366.2H1263" stroke="#808000" stroke-width="12" stroke-linecap="round" fill="none"/>
<polygon points="1169.85,1343.8 1189.25,1355 1189.25,1377.4 1169.85,1388.6 1150.45,1377.4 1150.45,1355" fill="#808000"/>
<text x="1282.9" y="1393.8" font-size="83.4">2250 r/min</text>
<path d="M1690.4,1366.2H1876.7" stroke="#960000" stroke-width="12" stroke-linecap="round" fill="none"/>
<polygon points="1783.55,1342.8 1789.6,1357.87 1805.8,1358.97 1793.35,1369.38 1797.3,1385.13 1783.55,1376.5 1769.8,1385.13 1773.75,1369.38 1761.3,1358.97 1777.5,1357.87" fill="#960000"/>
<text x="1897.1" y="1393.8" font-size="83.4">2550 r/min</text>
<path d="M1076.7,1470.4H1263" stroke="#8F00FF" stroke-width="12" stroke-linecap="round" fill="none"/>
<polygon points="1169.85,1447.2 1191.91,1463.23 1183.49,1489.17 1156.21,1489.17 1147.79,1463.23" fill="#8F00FF"/>
<text x="1282.9" y="1498" font-size="83.4">2850 r/min</text>
<g shape-rendering="crispEdges"><path d="M187,63H2300V71H187Z M187,1613H2300V1621.7H187Z M187,63H195V1621.7H187Z M2291.2,63H2300V1621.7H2291.2Z" fill="#000"/><path d="M191.05,1546.88H207" stroke="#000" stroke-width="8"/><path d="M191.05,1476.4H223" stroke="#000" stroke-width="8"/><path d="M191.05,1405.93H207" stroke="#000" stroke-width="8"/><path d="M191.05,1335.46H223" stroke="#000" stroke-width="8"/><path d="M191.05,1264.99H207" stroke="#000" stroke-width="8"/><path d="M191.05,1194.51H223" stroke="#000" stroke-width="8"/><path d="M191.05,1124.04H207" stroke="#000" stroke-width="8"/><path d="M191.05,1053.57H223" stroke="#000" stroke-width="8"/><path d="M191.05,983.1H207" stroke="#000" stroke-width="8"/><path d="M191.05,912.62H223" stroke="#000" stroke-width="8"/><path d="M191.05,842.15H207" stroke="#000" stroke-width="8"/><path d="M191.05,771.68H223" stroke="#000" stroke-width="8"/><path d="M191.05,701.21H207" stroke="#000" stroke-width="8"/><path d="M191.05,630.73H223" stroke="#000" stroke-width="8"/><path d="M191.05,560.26H207" stroke="#000" stroke-width="8"/><path d="M191.05,489.79H223" stroke="#000" stroke-width="8"/><path d="M191.05,419.32H207" stroke="#000" stroke-width="8"/><path d="M191.05,348.84H223" stroke="#000" stroke-width="8"/><path d="M191.05,278.37H207" stroke="#000" stroke-width="8"/><path d="M191.05,207.9H223" stroke="#000" stroke-width="8"/><path d="M191.05,137.43H207" stroke="#000" stroke-width="8"/><path d="M322.58,1617.35V1586" stroke="#000" stroke-width="8"/><path d="M454.11,1617.35V1602" stroke="#000" stroke-width="8"/><path d="M585.64,1617.35V1586" stroke="#000" stroke-width="8"/><path d="M717.17,1617.35V1602" stroke="#000" stroke-width="8"/><path d="M848.7,1617.35V1586" stroke="#000" stroke-width="8"/><path d="M980.23,1617.35V1602" stroke="#000" stroke-width="8"/><path d="M1111.76,1617.35V1586" stroke="#000" stroke-width="8"/><path d="M1243.29,1617.35V1602" stroke="#000" stroke-width="8"/><path d="M1374.82,1617.35V1586" stroke="#000" stroke-width="8"/><path d="M1506.35,1617.35V1602" stroke="#000" stroke-width="8"/><path d="M1637.88,1617.35V1586" stroke="#000" stroke-width="8"/><path d="M1769.41,1617.35V1602" stroke="#000" stroke-width="8"/><path d="M1900.94,1617.35V1586" stroke="#000" stroke-width="8"/><path d="M2032.47,1617.35V1602" stroke="#000" stroke-width="8"/><path d="M2164,1617.35V1586" stroke="#000" stroke-width="8"/></g>
<text x="156.9" y="1638.45" font-size="69.5" text-anchor="end">25</text>
<text x="156.9" y="1497.5" font-size="69.5" text-anchor="end">30</text>
<text x="156.9" y="1356.56" font-size="69.5" text-anchor="end">35</text>
<text x="156.9" y="1215.61" font-size="69.5" text-anchor="end">40</text>
<text x="156.9" y="1074.67" font-size="69.5" text-anchor="end">45</text>
<text x="156.9" y="933.72" font-size="69.5" text-anchor="end">50</text>
<text x="156.9" y="792.78" font-size="69.5" text-anchor="end">55</text>
<text x="156.9" y="651.83" font-size="69.5" text-anchor="end">60</text>
<text x="156.9" y="510.89" font-size="69.5" text-anchor="end">65</text>
<text x="156.9" y="369.94" font-size="69.5" text-anchor="end">70</text>
<text x="156.9" y="229" font-size="69.5" text-anchor="end">75</text>
<text x="156.9" y="88.05" font-size="69.5" text-anchor="end">80</text>
<text x="322.38" y="1704.9" font-size="69.5" text-anchor="middle">1.2</text>
<text x="585.44" y="1704.9" font-size="69.5" text-anchor="middle">1.4</text>
<text x="848.5" y="1704.9" font-size="69.5" text-anchor="middle">1.6</text>
<text x="1111.56" y="1704.9" font-size="69.5" text-anchor="middle">1.8</text>
<text x="1374.62" y="1704.9" font-size="69.5" text-anchor="middle">2.0</text>
<text x="1637.68" y="1704.9" font-size="69.5" text-anchor="middle">2.2</text>
<text x="1900.74" y="1704.9" font-size="69.5" text-anchor="middle">2.4</text>
<text x="2163.8" y="1704.9" font-size="69.5" text-anchor="middle">2.6</text>
<text x="870.1" y="1792.7" font-size="83.4">Air tank pressure (bar)</text>
<text x="1148" y="1908.4" font-size="85.5" text-anchor="middle">(a)</text>
<text transform="translate(72,791.3) rotate(-90)" font-size="83.4"><tspan font-style="italic">η</tspan><tspan font-size="58" dy="22.1">1</tspan></text>
</svg></body></html>
